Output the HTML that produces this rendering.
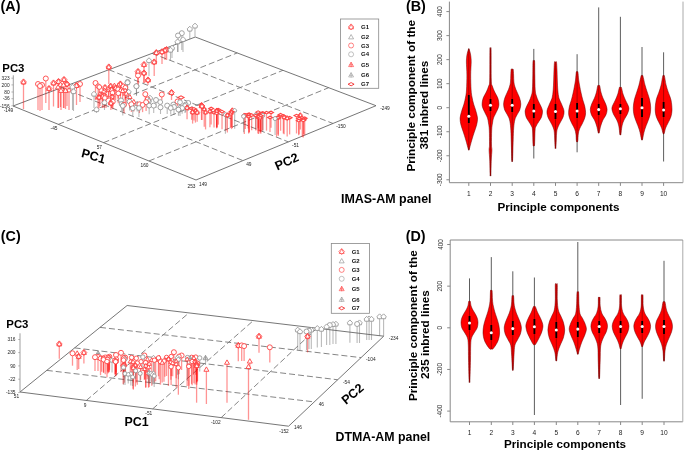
<!DOCTYPE html>
<html><head><meta charset="utf-8"><style>html,body{margin:0;padding:0;background:#fff;}svg{display:block;will-change:transform;}</style></head>
<body><svg width="685" height="451" viewBox="0 0 685 451" font-family="Liberation Sans, sans-serif">
<rect width="685" height="451" fill="#fff"/>
<line x1="58.38" y1="124.35" x2="237.22" y2="52.94" stroke="#777" stroke-width="0.9" stroke-dasharray="6 3" />
<line x1="103.58" y1="142.63" x2="282.94" y2="70.32" stroke="#777" stroke-width="0.9" stroke-dasharray="6 3" />
<line x1="148.97" y1="160.98" x2="328.66" y2="87.70" stroke="#777" stroke-width="0.9" stroke-dasharray="6 3" />
<line x1="61.49" y1="87.65" x2="242.98" y2="160.61" stroke="#777" stroke-width="0.9" stroke-dasharray="6 3" />
<line x1="108.89" y1="69.71" x2="288.34" y2="141.88" stroke="#777" stroke-width="0.9" stroke-dasharray="6 3" />
<line x1="152.09" y1="53.35" x2="332.98" y2="123.46" stroke="#777" stroke-width="0.9" stroke-dasharray="6 3" />
<line x1="13.00" y1="106.00" x2="195.30" y2="37.00" stroke="#666" stroke-width="0.9" />
<line x1="195.30" y1="37.00" x2="376.00" y2="105.70" stroke="#666" stroke-width="0.9" />
<line x1="13.00" y1="106.00" x2="196.00" y2="180.00" stroke="#666" stroke-width="0.9" />
<line x1="196.00" y1="180.00" x2="376.00" y2="105.70" stroke="#666" stroke-width="0.9" />
<line x1="86.34" y1="400.45" x2="188.94" y2="312.90" stroke="#777" stroke-width="0.9" stroke-dasharray="6 3" />
<line x1="152.69" y1="408.89" x2="253.35" y2="320.60" stroke="#777" stroke-width="0.9" stroke-dasharray="6 3" />
<line x1="221.18" y1="417.62" x2="316.98" y2="328.22" stroke="#777" stroke-width="0.9" stroke-dasharray="6 3" />
<line x1="46.77" y1="370.38" x2="314.28" y2="401.90" stroke="#777" stroke-width="0.9" stroke-dasharray="6 3" />
<line x1="74.62" y1="347.88" x2="337.67" y2="379.76" stroke="#777" stroke-width="0.9" stroke-dasharray="6 3" />
<line x1="100.00" y1="327.38" x2="361.07" y2="357.62" stroke="#777" stroke-width="0.9" stroke-dasharray="6 3" />
<line x1="20.00" y1="392.00" x2="127.10" y2="305.50" stroke="#666" stroke-width="0.9" />
<line x1="127.10" y1="305.50" x2="383.70" y2="336.20" stroke="#666" stroke-width="0.9" />
<line x1="20.00" y1="392.00" x2="288.60" y2="426.20" stroke="#666" stroke-width="0.9" />
<line x1="288.60" y1="426.20" x2="383.70" y2="336.20" stroke="#666" stroke-width="0.9" />
<line x1="23.50" y1="83.50" x2="23.50" y2="109.00" stroke="#f00" stroke-width="1.3" stroke-opacity="0.42"/>
<line x1="38.00" y1="85.50" x2="38.00" y2="110.00" stroke="#f00" stroke-width="1.3" stroke-opacity="0.42"/>
<line x1="40.00" y1="87.50" x2="40.00" y2="111.00" stroke="#f00" stroke-width="1.3" stroke-opacity="0.42"/>
<line x1="42.00" y1="86.50" x2="42.00" y2="110.00" stroke="#f00" stroke-width="1.3" stroke-opacity="0.42"/>
<line x1="45.80" y1="80.00" x2="45.80" y2="103.00" stroke="#f00" stroke-width="1.3" stroke-opacity="0.42"/>
<line x1="49.00" y1="90.00" x2="49.00" y2="110.00" stroke="#f00" stroke-width="1.3" stroke-opacity="0.42"/>
<line x1="53.50" y1="84.50" x2="53.50" y2="106.50" stroke="#f00" stroke-width="1.3" stroke-opacity="0.42"/>
<line x1="58.50" y1="83.00" x2="58.50" y2="108.00" stroke="#f00" stroke-width="1.3" stroke-opacity="0.42"/>
<line x1="64.00" y1="81.00" x2="64.00" y2="108.00" stroke="#f00" stroke-width="1.3" stroke-opacity="0.42"/>
<line x1="60.50" y1="86.00" x2="60.50" y2="107.00" stroke="#f00" stroke-width="1.3" stroke-opacity="0.42"/>
<line x1="63.50" y1="86.50" x2="63.50" y2="108.00" stroke="#f00" stroke-width="1.3" stroke-opacity="0.42"/>
<line x1="67.00" y1="85.50" x2="67.00" y2="106.00" stroke="#f00" stroke-width="1.3" stroke-opacity="0.42"/>
<line x1="58.00" y1="88.50" x2="58.00" y2="108.00" stroke="#f00" stroke-width="1.3" stroke-opacity="0.42"/>
<line x1="61.00" y1="92.00" x2="61.00" y2="110.00" stroke="#f00" stroke-width="1.3" stroke-opacity="0.42"/>
<line x1="65.50" y1="92.00" x2="65.50" y2="109.00" stroke="#f00" stroke-width="1.3" stroke-opacity="0.42"/>
<line x1="69.00" y1="91.50" x2="69.00" y2="110.00" stroke="#f00" stroke-width="1.3" stroke-opacity="0.42"/>
<line x1="72.50" y1="88.50" x2="72.50" y2="110.00" stroke="#666" stroke-width="1.1" stroke-opacity="0.45"/>
<line x1="73.50" y1="93.00" x2="73.50" y2="111.00" stroke="#666" stroke-width="1.1" stroke-opacity="0.45"/>
<line x1="76.50" y1="87.00" x2="76.50" y2="105.00" stroke="#f00" stroke-width="1.3" stroke-opacity="0.42"/>
<line x1="80.00" y1="85.50" x2="80.00" y2="102.00" stroke="#f00" stroke-width="1.3" stroke-opacity="0.42"/>
<line x1="95.50" y1="84.50" x2="95.50" y2="100.00" stroke="#f00" stroke-width="1.3" stroke-opacity="0.42"/>
<line x1="94.00" y1="95.50" x2="94.00" y2="108.00" stroke="#666" stroke-width="1.1" stroke-opacity="0.45"/>
<line x1="96.50" y1="111.00" x2="96.50" y2="113.00" stroke="#666" stroke-width="1.1" stroke-opacity="0.45"/>
<line x1="100.00" y1="95.50" x2="100.00" y2="106.00" stroke="#f00" stroke-width="1.3" stroke-opacity="0.42"/>
<line x1="102.50" y1="98.00" x2="102.50" y2="108.00" stroke="#f00" stroke-width="1.3" stroke-opacity="0.42"/>
<line x1="105.00" y1="89.00" x2="105.00" y2="98.00" stroke="#f00" stroke-width="1.3" stroke-opacity="0.42"/>
<line x1="106.00" y1="98.00" x2="106.00" y2="108.00" stroke="#f00" stroke-width="1.3" stroke-opacity="0.42"/>
<line x1="104.50" y1="104.00" x2="104.50" y2="110.00" stroke="#666" stroke-width="1.1" stroke-opacity="0.45"/>
<line x1="108.80" y1="68.50" x2="108.80" y2="84.00" stroke="#f00" stroke-width="1.3" stroke-opacity="0.42"/>
<line x1="120.50" y1="85.50" x2="120.50" y2="95.00" stroke="#f00" stroke-width="1.3" stroke-opacity="0.42"/>
<line x1="127.50" y1="84.00" x2="127.50" y2="92.00" stroke="#666" stroke-width="1.1" stroke-opacity="0.45"/>
<line x1="138.00" y1="73.00" x2="138.00" y2="85.00" stroke="#f00" stroke-width="1.3" stroke-opacity="0.42"/>
<line x1="138.00" y1="77.00" x2="138.00" y2="85.00" stroke="#f00" stroke-width="1.3" stroke-opacity="0.42"/>
<line x1="136.50" y1="87.50" x2="136.50" y2="96.00" stroke="#666" stroke-width="1.1" stroke-opacity="0.45"/>
<line x1="144.00" y1="66.00" x2="144.00" y2="83.00" stroke="#f00" stroke-width="1.3" stroke-opacity="0.42"/>
<line x1="144.00" y1="74.50" x2="144.00" y2="83.00" stroke="#f00" stroke-width="1.3" stroke-opacity="0.42"/>
<line x1="148.00" y1="81.50" x2="148.00" y2="85.00" stroke="#f00" stroke-width="1.3" stroke-opacity="0.42"/>
<line x1="149.00" y1="62.00" x2="149.00" y2="76.00" stroke="#666" stroke-width="1.1" stroke-opacity="0.45"/>
<line x1="154.20" y1="63.50" x2="154.20" y2="76.00" stroke="#f00" stroke-width="1.3" stroke-opacity="0.42"/>
<line x1="156.30" y1="54.10" x2="156.30" y2="62.00" stroke="#f00" stroke-width="1.3" stroke-opacity="0.42"/>
<line x1="162.00" y1="53.30" x2="162.00" y2="64.00" stroke="#f00" stroke-width="1.3" stroke-opacity="0.42"/>
<line x1="165.00" y1="51.80" x2="165.00" y2="60.00" stroke="#f00" stroke-width="1.3" stroke-opacity="0.42"/>
<line x1="166.60" y1="51.00" x2="166.60" y2="60.00" stroke="#f00" stroke-width="1.3" stroke-opacity="0.42"/>
<line x1="172.00" y1="49.50" x2="172.00" y2="58.00" stroke="#666" stroke-width="1.1" stroke-opacity="0.45"/>
<line x1="170.50" y1="51.50" x2="170.50" y2="60.00" stroke="#666" stroke-width="1.1" stroke-opacity="0.45"/>
<line x1="177.60" y1="43.20" x2="177.60" y2="52.00" stroke="#666" stroke-width="1.1" stroke-opacity="0.45"/>
<line x1="178.00" y1="37.00" x2="178.00" y2="52.00" stroke="#666" stroke-width="1.1" stroke-opacity="0.45"/>
<line x1="181.80" y1="34.70" x2="181.80" y2="50.00" stroke="#666" stroke-width="1.1" stroke-opacity="0.45"/>
<line x1="183.00" y1="40.90" x2="183.00" y2="52.00" stroke="#666" stroke-width="1.1" stroke-opacity="0.45"/>
<line x1="189.80" y1="30.50" x2="189.80" y2="39.00" stroke="#666" stroke-width="1.1" stroke-opacity="0.45"/>
<line x1="195.00" y1="27.40" x2="195.00" y2="36.60" stroke="#666" stroke-width="1.1" stroke-opacity="0.45"/>
<line x1="161.80" y1="96.00" x2="161.80" y2="100.00" stroke="#f00" stroke-width="1.3" stroke-opacity="0.42"/>
<line x1="171.50" y1="94.00" x2="171.50" y2="100.00" stroke="#f00" stroke-width="1.3" stroke-opacity="0.42"/>
<line x1="177.50" y1="103.00" x2="177.50" y2="106.00" stroke="#f00" stroke-width="1.3" stroke-opacity="0.42"/>
<line x1="181.00" y1="99.00" x2="181.00" y2="104.00" stroke="#f00" stroke-width="1.3" stroke-opacity="0.42"/>
<line x1="202.00" y1="107.50" x2="202.00" y2="120.00" stroke="#f00" stroke-width="1.3" stroke-opacity="0.42"/>
<line x1="201.50" y1="107.00" x2="201.50" y2="120.00" stroke="#f00" stroke-width="1.3" stroke-opacity="0.42"/>
<line x1="131.40" y1="105.80" x2="131.40" y2="112.00" stroke="#f00" stroke-width="1.3" stroke-opacity="0.42"/>
<line x1="139.40" y1="105.80" x2="139.40" y2="113.00" stroke="#f00" stroke-width="1.3" stroke-opacity="0.42"/>
<line x1="146.10" y1="103.70" x2="146.10" y2="111.00" stroke="#f00" stroke-width="1.3" stroke-opacity="0.42"/>
<line x1="145.30" y1="95.70" x2="145.30" y2="100.00" stroke="#f00" stroke-width="1.3" stroke-opacity="0.42"/>
<line x1="136.40" y1="87.70" x2="136.40" y2="95.00" stroke="#666" stroke-width="1.1" stroke-opacity="0.45"/>
<line x1="153.70" y1="107.10" x2="153.70" y2="113.00" stroke="#666" stroke-width="1.1" stroke-opacity="0.45"/>
<line x1="160.50" y1="108.80" x2="160.50" y2="114.00" stroke="#666" stroke-width="1.1" stroke-opacity="0.45"/>
<line x1="167.20" y1="107.10" x2="167.20" y2="114.00" stroke="#666" stroke-width="1.1" stroke-opacity="0.45"/>
<line x1="121.70" y1="105.50" x2="121.70" y2="111.00" stroke="#666" stroke-width="1.1" stroke-opacity="0.45"/>
<line x1="174.00" y1="108.50" x2="174.00" y2="115.00" stroke="#666" stroke-width="1.1" stroke-opacity="0.45"/>
<line x1="180.00" y1="109.50" x2="180.00" y2="116.00" stroke="#666" stroke-width="1.1" stroke-opacity="0.45"/>
<line x1="185.00" y1="107.50" x2="185.00" y2="113.00" stroke="#666" stroke-width="1.1" stroke-opacity="0.45"/>
<line x1="156.00" y1="101.50" x2="156.00" y2="108.00" stroke="#666" stroke-width="1.1" stroke-opacity="0.45"/>
<line x1="150.00" y1="99.50" x2="150.00" y2="106.00" stroke="#666" stroke-width="1.1" stroke-opacity="0.45"/>
<line x1="111.60" y1="91.10" x2="111.60" y2="100.00" stroke="#f00" stroke-width="1.3" stroke-opacity="0.42"/>
<line x1="115.60" y1="89.50" x2="115.60" y2="100.00" stroke="#f00" stroke-width="1.3" stroke-opacity="0.42"/>
<line x1="120.40" y1="85.50" x2="120.40" y2="96.00" stroke="#f00" stroke-width="1.3" stroke-opacity="0.42"/>
<line x1="120.40" y1="91.90" x2="120.40" y2="100.00" stroke="#f00" stroke-width="1.3" stroke-opacity="0.42"/>
<line x1="111.60" y1="101.50" x2="111.60" y2="108.00" stroke="#f00" stroke-width="1.3" stroke-opacity="0.42"/>
<line x1="127.60" y1="83.50" x2="127.60" y2="92.00" stroke="#666" stroke-width="1.1" stroke-opacity="0.45"/>
<line x1="112.48" y1="94.34" x2="112.48" y2="105.46" stroke="#f00" stroke-width="1.3" stroke-opacity="0.42"/>
<line x1="125.36" y1="89.16" x2="125.36" y2="99.68" stroke="#f00" stroke-width="1.3" stroke-opacity="0.42"/>
<line x1="123.38" y1="87.82" x2="123.38" y2="95.83" stroke="#f00" stroke-width="1.3" stroke-opacity="0.42"/>
<line x1="118.30" y1="94.84" x2="118.30" y2="103.32" stroke="#f00" stroke-width="1.3" stroke-opacity="0.42"/>
<line x1="117.70" y1="88.70" x2="117.70" y2="95.28" stroke="#f00" stroke-width="1.3" stroke-opacity="0.42"/>
<line x1="99.14" y1="98.81" x2="99.14" y2="108.31" stroke="#f00" stroke-width="1.3" stroke-opacity="0.42"/>
<line x1="112.10" y1="98.29" x2="112.10" y2="107.39" stroke="#f00" stroke-width="1.3" stroke-opacity="0.42"/>
<line x1="98.15" y1="87.69" x2="98.15" y2="97.46" stroke="#f00" stroke-width="1.3" stroke-opacity="0.42"/>
<line x1="129.86" y1="98.26" x2="129.86" y2="108.30" stroke="#f00" stroke-width="1.3" stroke-opacity="0.42"/>
<line x1="114.41" y1="86.92" x2="114.41" y2="96.23" stroke="#f00" stroke-width="1.3" stroke-opacity="0.42"/>
<line x1="125.09" y1="91.91" x2="125.09" y2="103.20" stroke="#f00" stroke-width="1.3" stroke-opacity="0.42"/>
<line x1="104.83" y1="99.48" x2="104.83" y2="106.24" stroke="#f00" stroke-width="1.3" stroke-opacity="0.42"/>
<line x1="110.72" y1="87.52" x2="110.72" y2="97.17" stroke="#f00" stroke-width="1.3" stroke-opacity="0.42"/>
<line x1="108.78" y1="90.86" x2="108.78" y2="97.43" stroke="#f00" stroke-width="1.3" stroke-opacity="0.42"/>
<line x1="102.31" y1="96.40" x2="102.31" y2="102.95" stroke="#f00" stroke-width="1.3" stroke-opacity="0.42"/>
<line x1="103.69" y1="94.33" x2="103.69" y2="103.07" stroke="#f00" stroke-width="1.3" stroke-opacity="0.42"/>
<line x1="122.62" y1="92.37" x2="122.62" y2="100.79" stroke="#f00" stroke-width="1.3" stroke-opacity="0.42"/>
<line x1="98.02" y1="98.60" x2="98.02" y2="109.97" stroke="#f00" stroke-width="1.3" stroke-opacity="0.42"/>
<line x1="104.74" y1="92.02" x2="104.74" y2="102.79" stroke="#f00" stroke-width="1.3" stroke-opacity="0.42"/>
<line x1="99.35" y1="88.55" x2="99.35" y2="97.26" stroke="#f00" stroke-width="1.3" stroke-opacity="0.42"/>
<line x1="108.53" y1="90.65" x2="108.53" y2="97.52" stroke="#f00" stroke-width="1.3" stroke-opacity="0.42"/>
<line x1="118.37" y1="86.72" x2="118.37" y2="95.06" stroke="#f00" stroke-width="1.3" stroke-opacity="0.42"/>
<line x1="128.69" y1="93.27" x2="128.69" y2="102.64" stroke="#666" stroke-width="1.1" stroke-opacity="0.45"/>
<line x1="118.07" y1="90.85" x2="118.07" y2="98.49" stroke="#f00" stroke-width="1.3" stroke-opacity="0.42"/>
<line x1="104.07" y1="96.85" x2="104.07" y2="108.05" stroke="#f00" stroke-width="1.3" stroke-opacity="0.42"/>
<line x1="126.23" y1="94.95" x2="126.23" y2="103.56" stroke="#f00" stroke-width="1.3" stroke-opacity="0.42"/>
<line x1="129.52" y1="103.05" x2="129.52" y2="110.51" stroke="#666" stroke-width="1.1" stroke-opacity="0.45"/>
<line x1="142.60" y1="106.46" x2="142.60" y2="112.14" stroke="#f00" stroke-width="1.3" stroke-opacity="0.42"/>
<line x1="149.04" y1="101.76" x2="149.04" y2="108.18" stroke="#666" stroke-width="1.1" stroke-opacity="0.45"/>
<line x1="133.80" y1="103.30" x2="133.80" y2="111.47" stroke="#f00" stroke-width="1.3" stroke-opacity="0.42"/>
<line x1="110.90" y1="104.61" x2="110.90" y2="110.11" stroke="#f00" stroke-width="1.3" stroke-opacity="0.42"/>
<line x1="123.49" y1="106.22" x2="123.49" y2="111.25" stroke="#666" stroke-width="1.1" stroke-opacity="0.45"/>
<line x1="149.18" y1="107.07" x2="149.18" y2="114.33" stroke="#666" stroke-width="1.1" stroke-opacity="0.45"/>
<line x1="132.77" y1="109.74" x2="132.77" y2="116.14" stroke="#666" stroke-width="1.1" stroke-opacity="0.45"/>
<line x1="148.44" y1="100.71" x2="148.44" y2="107.76" stroke="#666" stroke-width="1.1" stroke-opacity="0.45"/>
<line x1="121.06" y1="101.87" x2="121.06" y2="106.66" stroke="#666" stroke-width="1.1" stroke-opacity="0.45"/>
<line x1="138.95" y1="109.50" x2="138.95" y2="116.95" stroke="#666" stroke-width="1.1" stroke-opacity="0.45"/>
<line x1="122.78" y1="107.35" x2="122.78" y2="115.45" stroke="#666" stroke-width="1.1" stroke-opacity="0.45"/>
<line x1="147.66" y1="100.80" x2="147.66" y2="107.30" stroke="#f00" stroke-width="1.3" stroke-opacity="0.42"/>
<line x1="124.06" y1="106.33" x2="124.06" y2="113.26" stroke="#f00" stroke-width="1.3" stroke-opacity="0.42"/>
<line x1="112.85" y1="103.07" x2="112.85" y2="109.24" stroke="#f00" stroke-width="1.3" stroke-opacity="0.42"/>
<line x1="137.15" y1="105.08" x2="137.15" y2="111.43" stroke="#666" stroke-width="1.1" stroke-opacity="0.45"/>
<line x1="180.01" y1="103.74" x2="180.01" y2="109.64" stroke="#666" stroke-width="1.1" stroke-opacity="0.45"/>
<line x1="188.30" y1="104.40" x2="188.30" y2="111.02" stroke="#666" stroke-width="1.1" stroke-opacity="0.45"/>
<line x1="160.23" y1="103.59" x2="160.23" y2="108.29" stroke="#666" stroke-width="1.1" stroke-opacity="0.45"/>
<line x1="170.74" y1="109.53" x2="170.74" y2="114.40" stroke="#666" stroke-width="1.1" stroke-opacity="0.45"/>
<line x1="185.67" y1="106.12" x2="185.67" y2="112.28" stroke="#666" stroke-width="1.1" stroke-opacity="0.45"/>
<line x1="182.15" y1="109.54" x2="182.15" y2="113.84" stroke="#666" stroke-width="1.1" stroke-opacity="0.45"/>
<line x1="173.32" y1="106.03" x2="173.32" y2="110.08" stroke="#666" stroke-width="1.1" stroke-opacity="0.45"/>
<line x1="178.45" y1="111.10" x2="178.45" y2="115.71" stroke="#666" stroke-width="1.1" stroke-opacity="0.45"/>
<line x1="192.60" y1="113.63" x2="192.60" y2="123.62" stroke="#f00" stroke-width="1.3" stroke-opacity="0.42"/>
<line x1="195.41" y1="112.58" x2="195.41" y2="122.61" stroke="#f00" stroke-width="1.3" stroke-opacity="0.42"/>
<line x1="187.05" y1="109.16" x2="187.05" y2="119.28" stroke="#f00" stroke-width="1.3" stroke-opacity="0.42"/>
<line x1="193.99" y1="110.55" x2="193.99" y2="120.42" stroke="#f00" stroke-width="1.3" stroke-opacity="0.42"/>
<line x1="191.67" y1="109.95" x2="191.67" y2="119.76" stroke="#f00" stroke-width="1.3" stroke-opacity="0.42"/>
<line x1="197.16" y1="113.92" x2="197.16" y2="121.77" stroke="#f00" stroke-width="1.3" stroke-opacity="0.42"/>
<line x1="303.64" y1="120.73" x2="303.64" y2="134.23" stroke="#f00" stroke-width="1.3" stroke-opacity="0.42"/>
<line x1="277.99" y1="119.26" x2="277.99" y2="134.43" stroke="#f00" stroke-width="1.3" stroke-opacity="0.42"/>
<line x1="231.60" y1="113.16" x2="231.60" y2="129.14" stroke="#f00" stroke-width="1.3" stroke-opacity="0.42"/>
<line x1="244.32" y1="116.97" x2="244.32" y2="134.00" stroke="#f00" stroke-width="1.3" stroke-opacity="0.42"/>
<line x1="216.64" y1="112.73" x2="216.64" y2="128.35" stroke="#f00" stroke-width="1.3" stroke-opacity="0.42"/>
<line x1="260.75" y1="117.31" x2="260.75" y2="132.32" stroke="#f00" stroke-width="1.3" stroke-opacity="0.42"/>
<line x1="251.69" y1="116.62" x2="251.69" y2="130.14" stroke="#f00" stroke-width="1.3" stroke-opacity="0.42"/>
<line x1="225.40" y1="116.24" x2="225.40" y2="133.64" stroke="#666" stroke-width="1.1" stroke-opacity="0.45"/>
<line x1="230.50" y1="115.46" x2="230.50" y2="128.04" stroke="#f00" stroke-width="1.3" stroke-opacity="0.42"/>
<line x1="249.29" y1="115.79" x2="249.29" y2="132.14" stroke="#f00" stroke-width="1.3" stroke-opacity="0.42"/>
<line x1="225.92" y1="116.07" x2="225.92" y2="130.72" stroke="#f00" stroke-width="1.3" stroke-opacity="0.42"/>
<line x1="275.09" y1="120.07" x2="275.09" y2="134.92" stroke="#666" stroke-width="1.1" stroke-opacity="0.45"/>
<line x1="302.30" y1="119.40" x2="302.30" y2="136.65" stroke="#f00" stroke-width="1.3" stroke-opacity="0.42"/>
<line x1="249.14" y1="115.84" x2="249.14" y2="132.49" stroke="#f00" stroke-width="1.3" stroke-opacity="0.42"/>
<line x1="257.89" y1="118.32" x2="257.89" y2="133.62" stroke="#f00" stroke-width="1.3" stroke-opacity="0.42"/>
<line x1="303.25" y1="121.89" x2="303.25" y2="137.43" stroke="#f00" stroke-width="1.3" stroke-opacity="0.42"/>
<line x1="304.69" y1="119.78" x2="304.69" y2="135.15" stroke="#f00" stroke-width="1.3" stroke-opacity="0.42"/>
<line x1="255.83" y1="116.64" x2="255.83" y2="129.27" stroke="#666" stroke-width="1.1" stroke-opacity="0.45"/>
<line x1="260.12" y1="119.42" x2="260.12" y2="132.53" stroke="#f00" stroke-width="1.3" stroke-opacity="0.42"/>
<line x1="209.92" y1="112.77" x2="209.92" y2="127.34" stroke="#f00" stroke-width="1.3" stroke-opacity="0.42"/>
<line x1="231.27" y1="113.95" x2="231.27" y2="127.08" stroke="#f00" stroke-width="1.3" stroke-opacity="0.42"/>
<line x1="258.12" y1="113.63" x2="258.12" y2="128.23" stroke="#f00" stroke-width="1.3" stroke-opacity="0.42"/>
<line x1="216.59" y1="114.81" x2="216.59" y2="127.42" stroke="#f00" stroke-width="1.3" stroke-opacity="0.42"/>
<line x1="204.24" y1="110.71" x2="204.24" y2="126.83" stroke="#f00" stroke-width="1.3" stroke-opacity="0.42"/>
<line x1="214.01" y1="114.30" x2="214.01" y2="127.42" stroke="#f00" stroke-width="1.3" stroke-opacity="0.42"/>
<line x1="278.36" y1="118.94" x2="278.36" y2="135.83" stroke="#f00" stroke-width="1.3" stroke-opacity="0.42"/>
<line x1="289.64" y1="119.24" x2="289.64" y2="134.43" stroke="#f00" stroke-width="1.3" stroke-opacity="0.42"/>
<line x1="258.61" y1="118.42" x2="258.61" y2="133.98" stroke="#f00" stroke-width="1.3" stroke-opacity="0.42"/>
<line x1="299.06" y1="120.02" x2="299.06" y2="134.26" stroke="#f00" stroke-width="1.3" stroke-opacity="0.42"/>
<line x1="296.52" y1="117.06" x2="296.52" y2="133.45" stroke="#f00" stroke-width="1.3" stroke-opacity="0.42"/>
<line x1="217.06" y1="111.39" x2="217.06" y2="127.52" stroke="#f00" stroke-width="1.3" stroke-opacity="0.42"/>
<line x1="248.65" y1="118.25" x2="248.65" y2="133.46" stroke="#f00" stroke-width="1.3" stroke-opacity="0.42"/>
<line x1="245.29" y1="116.36" x2="245.29" y2="128.95" stroke="#f00" stroke-width="1.3" stroke-opacity="0.42"/>
<line x1="298.69" y1="122.17" x2="298.69" y2="135.25" stroke="#f00" stroke-width="1.3" stroke-opacity="0.42"/>
<line x1="255.79" y1="117.15" x2="255.79" y2="130.59" stroke="#f00" stroke-width="1.3" stroke-opacity="0.42"/>
<line x1="205.55" y1="113.87" x2="205.55" y2="129.43" stroke="#f00" stroke-width="1.3" stroke-opacity="0.42"/>
<line x1="218.39" y1="111.14" x2="218.39" y2="124.65" stroke="#f00" stroke-width="1.3" stroke-opacity="0.42"/>
<line x1="300.32" y1="116.71" x2="300.32" y2="129.52" stroke="#f00" stroke-width="1.3" stroke-opacity="0.42"/>
<line x1="211.15" y1="110.03" x2="211.15" y2="124.48" stroke="#f00" stroke-width="1.3" stroke-opacity="0.42"/>
<line x1="248.16" y1="116.03" x2="248.16" y2="128.60" stroke="#f00" stroke-width="1.3" stroke-opacity="0.42"/>
<line x1="222.03" y1="113.13" x2="222.03" y2="129.33" stroke="#f00" stroke-width="1.3" stroke-opacity="0.42"/>
<line x1="266.51" y1="114.17" x2="266.51" y2="130.63" stroke="#f00" stroke-width="1.3" stroke-opacity="0.42"/>
<line x1="287.18" y1="119.62" x2="287.18" y2="136.43" stroke="#f00" stroke-width="1.3" stroke-opacity="0.42"/>
<line x1="262.82" y1="114.51" x2="262.82" y2="129.93" stroke="#f00" stroke-width="1.3" stroke-opacity="0.42"/>
<line x1="232.35" y1="111.75" x2="232.35" y2="127.96" stroke="#f00" stroke-width="1.3" stroke-opacity="0.42"/>
<line x1="216.99" y1="111.96" x2="216.99" y2="127.15" stroke="#f00" stroke-width="1.3" stroke-opacity="0.42"/>
<line x1="283.35" y1="117.42" x2="283.35" y2="133.54" stroke="#f00" stroke-width="1.3" stroke-opacity="0.42"/>
<line x1="234.68" y1="111.82" x2="234.68" y2="128.76" stroke="#666" stroke-width="1.1" stroke-opacity="0.45"/>
<line x1="227.37" y1="116.67" x2="227.37" y2="132.50" stroke="#f00" stroke-width="1.3" stroke-opacity="0.42"/>
<line x1="262.81" y1="116.70" x2="262.81" y2="131.15" stroke="#666" stroke-width="1.1" stroke-opacity="0.45"/>
<line x1="276.63" y1="119.20" x2="276.63" y2="136.60" stroke="#f00" stroke-width="1.3" stroke-opacity="0.42"/>
<line x1="280.57" y1="116.26" x2="280.57" y2="130.77" stroke="#f00" stroke-width="1.3" stroke-opacity="0.42"/>
<line x1="271.04" y1="113.97" x2="271.04" y2="127.76" stroke="#f00" stroke-width="1.3" stroke-opacity="0.42"/>
<line x1="260.76" y1="116.38" x2="260.76" y2="133.72" stroke="#f00" stroke-width="1.3" stroke-opacity="0.42"/>
<line x1="269.99" y1="119.01" x2="269.99" y2="131.89" stroke="#f00" stroke-width="1.3" stroke-opacity="0.42"/>
<line x1="243.57" y1="117.85" x2="243.57" y2="132.28" stroke="#666" stroke-width="1.1" stroke-opacity="0.45"/>
<line x1="259.91" y1="116.89" x2="259.91" y2="131.53" stroke="#f00" stroke-width="1.3" stroke-opacity="0.42"/>
<line x1="258.31" y1="116.77" x2="258.31" y2="131.10" stroke="#f00" stroke-width="1.3" stroke-opacity="0.42"/>
<line x1="261.87" y1="115.03" x2="261.87" y2="131.11" stroke="#f00" stroke-width="1.3" stroke-opacity="0.42"/>
<line x1="284.11" y1="118.63" x2="284.11" y2="134.30" stroke="#f00" stroke-width="1.3" stroke-opacity="0.42"/>
<path d="M195.00,23.15 L197.50,25.65 L196.88,28.02 L193.12,28.02 L192.50,25.65Z" fill="#fff" stroke="#999" stroke-width="0.9"/>
<path d="M189.80,26.25 L192.30,28.75 L191.68,31.12 L187.93,31.12 L187.30,28.75Z" fill="#fff" stroke="#999" stroke-width="0.9"/>
<circle cx="181.80" cy="33.20" r="2.50" fill="#fff" stroke="#999" stroke-width="0.9"/>
<circle cx="178.00" cy="35.50" r="2.50" fill="#fff" stroke="#999" stroke-width="0.9"/>
<path d="M183.00,36.65 L185.50,39.15 L184.88,41.52 L181.12,41.52 L180.50,39.15Z" fill="#fff" stroke="#999" stroke-width="0.9"/>
<path d="M177.60,38.95 L180.10,41.45 L179.47,43.83 L175.72,43.83 L175.10,41.45Z" fill="#fff" stroke="#999" stroke-width="0.9"/>
<path d="M172.00,45.25 L174.50,47.75 L173.88,50.12 L170.12,50.12 L169.50,47.75Z" fill="#fff" stroke="#999" stroke-width="0.9"/>
<path d="M166.60,47.00 L169.10,51.38 L164.10,51.38Z" fill="#fff" stroke="#f44" stroke-width="0.9"/>
<path d="M166.60,46.38 L169.47,49.50 L166.60,52.50 L163.72,49.50Z" fill="none" stroke="#f44" stroke-width="0.9"/>
<path d="M170.50,47.25 L173.00,49.75 L172.38,52.12 L168.62,52.12 L168.00,49.75Z" fill="#fff" stroke="#999" stroke-width="0.9"/>
<path d="M165.00,47.80 L167.50,52.17 L162.50,52.17Z" fill="#fff" stroke="#f44" stroke-width="0.9"/>
<path d="M165.00,47.17 L167.88,50.30 L165.00,53.30 L162.12,50.30Z" fill="none" stroke="#f44" stroke-width="0.9"/>
<path d="M162.00,49.30 L164.50,53.67 L159.50,53.67Z" fill="#fff" stroke="#f44" stroke-width="0.9"/>
<path d="M162.00,48.67 L164.88,51.80 L162.00,54.80 L159.12,51.80Z" fill="none" stroke="#f44" stroke-width="0.9"/>
<path d="M156.30,50.10 L158.80,54.48 L153.80,54.48Z" fill="#fff" stroke="#f44" stroke-width="0.9"/>
<path d="M156.30,49.48 L159.18,52.60 L156.30,55.60 L153.43,52.60Z" fill="none" stroke="#f44" stroke-width="0.9"/>
<path d="M149.00,57.75 L151.50,60.25 L150.88,62.62 L147.12,62.62 L146.50,60.25Z" fill="#fff" stroke="#999" stroke-width="0.9"/>
<path d="M154.20,59.50 L156.70,63.88 L151.70,63.88Z" fill="#fff" stroke="#f44" stroke-width="0.9"/>
<path d="M154.20,58.88 L157.07,62.00 L154.20,65.00 L151.32,62.00Z" fill="none" stroke="#f44" stroke-width="0.9"/>
<path d="M144.00,62.00 L146.50,66.38 L141.50,66.38Z" fill="#fff" stroke="#f44" stroke-width="0.9"/>
<path d="M144.00,61.38 L146.88,64.50 L144.00,67.50 L141.12,64.50Z" fill="none" stroke="#f44" stroke-width="0.9"/>
<path d="M108.80,64.50 L111.30,68.88 L106.30,68.88Z" fill="#fff" stroke="#f44" stroke-width="0.9"/>
<path d="M108.80,63.88 L111.67,67.00 L108.80,70.00 L105.92,67.00Z" fill="none" stroke="#f44" stroke-width="0.9"/>
<path d="M138.00,69.00 L140.50,73.38 L135.50,73.38Z" fill="#fff" stroke="#f44" stroke-width="0.9"/>
<path d="M138.00,68.38 L140.88,71.50 L138.00,74.50 L135.12,71.50Z" fill="none" stroke="#f44" stroke-width="0.9"/>
<path d="M144.00,70.50 L146.50,74.88 L141.50,74.88Z" fill="#fff" stroke="#f44" stroke-width="0.9"/>
<path d="M144.00,69.88 L146.88,73.00 L144.00,76.00 L141.12,73.00Z" fill="none" stroke="#f44" stroke-width="0.9"/>
<circle cx="138.00" cy="75.50" r="2.50" fill="#fff" stroke="#f44" stroke-width="0.9"/>
<circle cx="45.80" cy="78.50" r="2.50" fill="#fff" stroke="#f44" stroke-width="0.9"/>
<path d="M64.00,77.00 L66.50,81.38 L61.50,81.38Z" fill="#fff" stroke="#f44" stroke-width="0.9"/>
<path d="M64.00,76.38 L66.88,79.50 L64.00,82.50 L61.12,79.50Z" fill="none" stroke="#f44" stroke-width="0.9"/>
<path d="M148.00,77.50 L150.50,81.88 L145.50,81.88Z" fill="#fff" stroke="#f44" stroke-width="0.9"/>
<path d="M148.00,76.88 L150.88,80.00 L148.00,83.00 L145.12,80.00Z" fill="none" stroke="#f44" stroke-width="0.9"/>
<path d="M58.50,79.00 L61.00,83.38 L56.00,83.38Z" fill="#fff" stroke="#f44" stroke-width="0.9"/>
<path d="M58.50,78.38 L61.38,81.50 L58.50,84.50 L55.62,81.50Z" fill="none" stroke="#f44" stroke-width="0.9"/>
<path d="M23.50,79.50 L26.00,83.88 L21.00,83.88Z" fill="#fff" stroke="#f44" stroke-width="0.9"/>
<path d="M23.50,78.88 L26.38,82.00 L23.50,85.00 L20.62,82.00Z" fill="none" stroke="#f44" stroke-width="0.9"/>
<circle cx="127.60" cy="82.00" r="2.50" fill="#fff" stroke="#999" stroke-width="0.9"/>
<path d="M127.50,79.75 L130.00,82.25 L129.38,84.62 L125.62,84.62 L125.00,82.25Z" fill="#fff" stroke="#999" stroke-width="0.9"/>
<path d="M53.50,80.50 L56.00,84.88 L51.00,84.88Z" fill="#fff" stroke="#f44" stroke-width="0.9"/>
<path d="M53.50,79.88 L56.38,83.00 L53.50,86.00 L50.62,83.00Z" fill="none" stroke="#f44" stroke-width="0.9"/>
<circle cx="95.50" cy="83.00" r="2.50" fill="#fff" stroke="#f44" stroke-width="0.9"/>
<circle cx="38.00" cy="84.00" r="2.50" fill="#fff" stroke="#f44" stroke-width="0.9"/>
<path d="M67.00,81.50 L69.50,85.88 L64.50,85.88Z" fill="#fff" stroke="#f44" stroke-width="0.9"/>
<path d="M67.00,80.88 L69.88,84.00 L67.00,87.00 L64.12,84.00Z" fill="none" stroke="#f44" stroke-width="0.9"/>
<circle cx="80.00" cy="84.00" r="2.50" fill="#fff" stroke="#f44" stroke-width="0.9"/>
<path d="M120.50,81.50 L123.00,85.88 L118.00,85.88Z" fill="#fff" stroke="#f44" stroke-width="0.9"/>
<path d="M120.50,81.50 L120.50,86.50 M118.75,84.20 L122.25,84.20" stroke="#f44" stroke-width="0.9"/>
<path d="M120.40,81.50 L122.90,85.88 L117.90,85.88Z" fill="#fff" stroke="#f44" stroke-width="0.9"/>
<path d="M120.40,80.88 L123.28,84.00 L120.40,87.00 L117.53,84.00Z" fill="none" stroke="#f44" stroke-width="0.9"/>
<path d="M60.50,82.00 L63.00,86.38 L58.00,86.38Z" fill="#fff" stroke="#f44" stroke-width="0.9"/>
<circle cx="42.00" cy="85.00" r="2.50" fill="#fff" stroke="#f44" stroke-width="0.9"/>
<path d="M63.50,82.50 L66.00,86.88 L61.00,86.88Z" fill="#fff" stroke="#f44" stroke-width="0.9"/>
<path d="M118.37,82.92 L120.67,86.94 L116.07,86.94Z" fill="#fff" stroke="#f44" stroke-width="0.9"/>
<path d="M114.41,83.12 L116.71,87.14 L112.11,87.14Z" fill="#fff" stroke="#f44" stroke-width="0.9"/>
<path d="M76.50,83.00 L79.00,87.38 L74.00,87.38Z" fill="#fff" stroke="#f44" stroke-width="0.9"/>
<path d="M76.50,82.38 L79.38,85.50 L76.50,88.50 L73.62,85.50Z" fill="none" stroke="#f44" stroke-width="0.9"/>
<circle cx="40.00" cy="86.00" r="2.50" fill="#fff" stroke="#f44" stroke-width="0.9"/>
<path d="M136.50,83.25 L139.00,85.75 L138.38,88.12 L134.62,88.12 L134.00,85.75Z" fill="#fff" stroke="#999" stroke-width="0.9"/>
<path d="M110.72,83.72 L113.02,87.75 L108.42,87.75Z" fill="#fff" stroke="#f44" stroke-width="0.9"/>
<path d="M110.72,83.15 L113.36,86.02 L110.72,88.78 L108.07,86.02Z" fill="none" stroke="#f44" stroke-width="0.9"/>
<circle cx="98.15" cy="86.19" r="2.30" fill="#fff" stroke="#f44" stroke-width="0.9"/>
<circle cx="136.40" cy="86.20" r="2.50" fill="#fff" stroke="#999" stroke-width="0.9"/>
<circle cx="123.38" cy="86.32" r="2.30" fill="#fff" stroke="#f44" stroke-width="0.9"/>
<path d="M58.00,84.50 L60.50,88.88 L55.50,88.88Z" fill="#fff" stroke="#f44" stroke-width="0.9"/>
<path d="M72.50,84.25 L75.00,86.75 L74.38,89.12 L70.62,89.12 L70.00,86.75Z" fill="#fff" stroke="#999" stroke-width="0.9"/>
<circle cx="99.35" cy="87.05" r="2.30" fill="#fff" stroke="#f44" stroke-width="0.9"/>
<path d="M117.70,84.90 L120.00,88.93 L115.40,88.93Z" fill="#fff" stroke="#f44" stroke-width="0.9"/>
<path d="M105.00,85.00 L107.50,89.38 L102.50,89.38Z" fill="#fff" stroke="#f44" stroke-width="0.9"/>
<path d="M105.00,84.38 L107.88,87.50 L105.00,90.50 L102.12,87.50Z" fill="none" stroke="#f44" stroke-width="0.9"/>
<circle cx="125.36" cy="87.66" r="2.30" fill="#fff" stroke="#f44" stroke-width="0.9"/>
<path d="M115.60,85.50 L118.10,89.88 L113.10,89.88Z" fill="#fff" stroke="#f44" stroke-width="0.9"/>
<path d="M115.60,84.88 L118.47,88.00 L115.60,91.00 L112.72,88.00Z" fill="none" stroke="#f44" stroke-width="0.9"/>
<path d="M49.00,86.00 L51.50,90.38 L46.50,90.38Z" fill="#fff" stroke="#f44" stroke-width="0.9"/>
<path d="M49.00,85.38 L51.88,88.50 L49.00,91.50 L46.12,88.50Z" fill="none" stroke="#f44" stroke-width="0.9"/>
<circle cx="108.53" cy="89.15" r="2.30" fill="#fff" stroke="#f44" stroke-width="0.9"/>
<circle cx="118.07" cy="89.35" r="2.30" fill="#fff" stroke="#f44" stroke-width="0.9"/>
<path d="M108.78,87.06 L111.08,91.08 L106.48,91.08Z" fill="#fff" stroke="#f44" stroke-width="0.9"/>
<path d="M111.60,87.10 L114.10,91.47 L109.10,91.47Z" fill="#fff" stroke="#f44" stroke-width="0.9"/>
<path d="M111.60,86.47 L114.47,89.60 L111.60,92.60 L108.72,89.60Z" fill="none" stroke="#f44" stroke-width="0.9"/>
<path d="M69.00,87.50 L71.50,91.88 L66.50,91.88Z" fill="#fff" stroke="#f44" stroke-width="0.9"/>
<path d="M120.40,87.90 L122.90,92.28 L117.90,92.28Z" fill="#fff" stroke="#f44" stroke-width="0.9"/>
<path d="M125.09,88.11 L127.39,92.14 L122.79,92.14Z" fill="#fff" stroke="#f44" stroke-width="0.9"/>
<path d="M61.00,88.00 L63.50,92.38 L58.50,92.38Z" fill="#fff" stroke="#f44" stroke-width="0.9"/>
<path d="M65.50,88.00 L68.00,92.38 L63.00,92.38Z" fill="#fff" stroke="#f44" stroke-width="0.9"/>
<path d="M104.74,88.22 L107.04,92.24 L102.44,92.24Z" fill="#fff" stroke="#f44" stroke-width="0.9"/>
<path d="M122.62,88.57 L124.92,92.59 L120.32,92.59Z" fill="#fff" stroke="#f44" stroke-width="0.9"/>
<path d="M73.50,88.75 L76.00,91.25 L75.38,93.62 L71.62,93.62 L71.00,91.25Z" fill="#fff" stroke="#999" stroke-width="0.9"/>
<path d="M128.69,89.24 L130.99,91.54 L130.42,93.73 L126.97,93.73 L126.39,91.54Z" fill="#fff" stroke="#999" stroke-width="0.9"/>
<path d="M171.50,90.00 L174.00,94.38 L169.00,94.38Z" fill="#fff" stroke="#f44" stroke-width="0.9"/>
<path d="M171.50,89.38 L174.38,92.50 L171.50,95.50 L168.62,92.50Z" fill="none" stroke="#f44" stroke-width="0.9"/>
<circle cx="103.69" cy="92.83" r="2.30" fill="#fff" stroke="#f44" stroke-width="0.9"/>
<circle cx="112.48" cy="92.84" r="2.30" fill="#fff" stroke="#f44" stroke-width="0.9"/>
<circle cx="118.30" cy="93.34" r="2.30" fill="#fff" stroke="#f44" stroke-width="0.9"/>
<path d="M126.23,91.15 L128.53,95.17 L123.93,95.17Z" fill="#fff" stroke="#f44" stroke-width="0.9"/>
<path d="M94.00,91.25 L96.50,93.75 L95.88,96.12 L92.12,96.12 L91.50,93.75Z" fill="#fff" stroke="#999" stroke-width="0.9"/>
<path d="M100.00,91.50 L102.50,95.88 L97.50,95.88Z" fill="#fff" stroke="#f44" stroke-width="0.9"/>
<circle cx="145.30" cy="94.20" r="2.50" fill="#fff" stroke="#f44" stroke-width="0.9"/>
<circle cx="161.80" cy="94.50" r="2.50" fill="#fff" stroke="#f44" stroke-width="0.9"/>
<path d="M102.31,92.60 L104.61,96.62 L100.01,96.62Z" fill="#fff" stroke="#f44" stroke-width="0.9"/>
<path d="M102.31,92.02 L104.95,94.90 L102.31,97.66 L99.66,94.90Z" fill="none" stroke="#f44" stroke-width="0.9"/>
<path d="M104.07,93.05 L106.37,97.08 L101.77,97.08Z" fill="#fff" stroke="#f44" stroke-width="0.9"/>
<path d="M104.07,92.48 L106.72,95.35 L104.07,98.11 L101.43,95.35Z" fill="none" stroke="#f44" stroke-width="0.9"/>
<path d="M102.50,94.00 L105.00,98.38 L100.00,98.38Z" fill="#fff" stroke="#f44" stroke-width="0.9"/>
<path d="M106.00,94.00 L108.50,98.38 L103.50,98.38Z" fill="#fff" stroke="#f44" stroke-width="0.9"/>
<path d="M129.86,94.46 L132.16,98.49 L127.56,98.49Z" fill="#fff" stroke="#f44" stroke-width="0.9"/>
<path d="M112.10,94.49 L114.40,98.52 L109.80,98.52Z" fill="#fff" stroke="#f44" stroke-width="0.9"/>
<path d="M112.10,93.92 L114.74,96.79 L112.10,99.55 L109.45,96.79Z" fill="none" stroke="#f44" stroke-width="0.9"/>
<path d="M98.02,94.80 L100.32,98.83 L95.72,98.83Z" fill="#fff" stroke="#f44" stroke-width="0.9"/>
<path d="M99.14,95.01 L101.44,99.04 L96.84,99.04Z" fill="#fff" stroke="#f44" stroke-width="0.9"/>
<path d="M99.14,94.44 L101.79,97.31 L99.14,100.07 L96.50,97.31Z" fill="none" stroke="#f44" stroke-width="0.9"/>
<path d="M178.00,97.50 L181.00,95.88 L184.00,97.50 L181.00,99.12Z" fill="#fff" stroke="#f44" stroke-width="1.08"/>
<circle cx="104.83" cy="97.98" r="2.30" fill="#fff" stroke="#f44" stroke-width="0.9"/>
<path d="M150.00,95.25 L152.50,97.75 L151.88,100.12 L148.12,100.12 L147.50,97.75Z" fill="#fff" stroke="#999" stroke-width="0.9"/>
<path d="M148.44,96.81 L150.84,101.01 L146.04,101.01Z" fill="#fff" stroke="#999" stroke-width="0.9"/>
<circle cx="147.66" cy="99.30" r="2.40" fill="#fff" stroke="#f44" stroke-width="0.9"/>
<circle cx="156.00" cy="100.00" r="2.50" fill="#fff" stroke="#999" stroke-width="0.9"/>
<path d="M111.60,97.50 L114.10,101.88 L109.10,101.88Z" fill="#fff" stroke="#f44" stroke-width="0.9"/>
<path d="M149.04,97.86 L151.44,102.06 L146.64,102.06Z" fill="#fff" stroke="#999" stroke-width="0.9"/>
<circle cx="121.06" cy="100.37" r="2.40" fill="#fff" stroke="#999" stroke-width="0.9"/>
<circle cx="177.50" cy="101.50" r="2.50" fill="#fff" stroke="#f44" stroke-width="0.9"/>
<circle cx="129.52" cy="101.55" r="2.40" fill="#fff" stroke="#999" stroke-width="0.9"/>
<circle cx="112.85" cy="101.57" r="2.40" fill="#fff" stroke="#f44" stroke-width="0.9"/>
<path d="M133.80,99.40 L136.20,103.60 L131.40,103.60Z" fill="#fff" stroke="#f44" stroke-width="0.9"/>
<circle cx="160.23" cy="102.09" r="2.40" fill="#fff" stroke="#999" stroke-width="0.9"/>
<circle cx="146.10" cy="102.20" r="2.50" fill="#fff" stroke="#f44" stroke-width="0.9"/>
<circle cx="180.01" cy="102.24" r="2.40" fill="#fff" stroke="#999" stroke-width="0.9"/>
<path d="M104.50,99.75 L107.00,102.25 L106.38,104.62 L102.62,104.62 L102.00,102.25Z" fill="#fff" stroke="#999" stroke-width="0.9"/>
<circle cx="188.30" cy="102.90" r="2.40" fill="#fff" stroke="#999" stroke-width="0.9"/>
<path d="M110.90,100.71 L113.30,104.91 L108.50,104.91Z" fill="#fff" stroke="#f44" stroke-width="0.9"/>
<path d="M110.90,100.11 L113.66,103.11 L110.90,105.99 L108.14,103.11Z" fill="none" stroke="#f44" stroke-width="0.9"/>
<path d="M137.15,101.18 L139.55,105.38 L134.75,105.38Z" fill="#fff" stroke="#999" stroke-width="0.9"/>
<circle cx="121.70" cy="104.00" r="2.50" fill="#fff" stroke="#999" stroke-width="0.9"/>
<circle cx="131.40" cy="104.30" r="2.50" fill="#fff" stroke="#f44" stroke-width="0.9"/>
<circle cx="139.40" cy="104.30" r="2.50" fill="#fff" stroke="#f44" stroke-width="0.9"/>
<circle cx="173.32" cy="104.53" r="2.40" fill="#fff" stroke="#999" stroke-width="0.9"/>
<circle cx="185.67" cy="104.62" r="2.40" fill="#fff" stroke="#999" stroke-width="0.9"/>
<circle cx="123.49" cy="104.72" r="2.40" fill="#fff" stroke="#999" stroke-width="0.9"/>
<circle cx="124.06" cy="104.83" r="2.40" fill="#fff" stroke="#f44" stroke-width="0.9"/>
<circle cx="142.60" cy="104.96" r="2.40" fill="#fff" stroke="#f44" stroke-width="0.9"/>
<path d="M201.50,103.00 L204.00,107.38 L199.00,107.38Z" fill="#fff" stroke="#f44" stroke-width="0.9"/>
<path d="M201.50,102.38 L204.38,105.50 L201.50,108.50 L198.62,105.50Z" fill="none" stroke="#f44" stroke-width="0.9"/>
<circle cx="149.18" cy="105.57" r="2.40" fill="#fff" stroke="#999" stroke-width="0.9"/>
<circle cx="153.70" cy="105.60" r="2.50" fill="#fff" stroke="#999" stroke-width="0.9"/>
<circle cx="167.20" cy="105.60" r="2.50" fill="#fff" stroke="#999" stroke-width="0.9"/>
<circle cx="122.78" cy="105.85" r="2.40" fill="#fff" stroke="#999" stroke-width="0.9"/>
<path d="M202.00,103.50 L204.50,107.88 L199.50,107.88Z" fill="#fff" stroke="#f44" stroke-width="0.9"/>
<path d="M202.00,102.88 L204.88,106.00 L202.00,109.00 L199.12,106.00Z" fill="none" stroke="#f44" stroke-width="0.9"/>
<circle cx="185.00" cy="106.00" r="2.50" fill="#fff" stroke="#999" stroke-width="0.9"/>
<circle cx="174.00" cy="107.00" r="2.50" fill="#fff" stroke="#999" stroke-width="0.9"/>
<circle cx="160.50" cy="107.30" r="2.50" fill="#fff" stroke="#999" stroke-width="0.9"/>
<path d="M187.05,105.46 L189.25,109.31 L184.85,109.31Z" fill="#fff" stroke="#f44" stroke-width="0.9"/>
<path d="M187.05,104.91 L189.58,107.66 L187.05,110.30 L184.52,107.66Z" fill="none" stroke="#f44" stroke-width="0.9"/>
<circle cx="180.00" cy="108.00" r="2.50" fill="#fff" stroke="#999" stroke-width="0.9"/>
<circle cx="138.95" cy="108.00" r="2.40" fill="#fff" stroke="#999" stroke-width="0.9"/>
<circle cx="170.74" cy="108.03" r="2.40" fill="#fff" stroke="#999" stroke-width="0.9"/>
<circle cx="182.15" cy="108.04" r="2.40" fill="#fff" stroke="#999" stroke-width="0.9"/>
<circle cx="132.77" cy="108.24" r="2.40" fill="#fff" stroke="#999" stroke-width="0.9"/>
<path d="M189.03,108.45 L191.67,107.02 L194.31,108.45 L191.67,109.88Z" fill="#fff" stroke="#f44" stroke-width="1.08"/>
<path d="M208.75,108.53 L211.15,107.23 L213.55,108.53 L211.15,109.83Z" fill="#fff" stroke="#f44" stroke-width="1.08"/>
<path d="M191.35,109.05 L193.99,107.62 L196.63,109.05 L193.99,110.48Z" fill="#fff" stroke="#f44" stroke-width="1.08"/>
<path d="M204.24,107.21 L206.24,110.71 L202.24,110.71Z" fill="#fff" stroke="#f44" stroke-width="0.9"/>
<path d="M204.24,106.71 L206.54,109.21 L204.24,111.61 L201.94,109.21Z" fill="none" stroke="#f44" stroke-width="0.9"/>
<path d="M96.50,106.75 L99.00,109.25 L98.38,111.62 L94.62,111.62 L94.00,109.25Z" fill="#fff" stroke="#999" stroke-width="0.9"/>
<circle cx="178.45" cy="109.60" r="2.40" fill="#fff" stroke="#999" stroke-width="0.9"/>
<path d="M215.99,109.64 L218.39,108.34 L220.79,109.64 L218.39,110.94Z" fill="#fff" stroke="#f44" stroke-width="1.08"/>
<path d="M214.66,109.89 L217.06,108.59 L219.46,109.89 L217.06,111.19Z" fill="#fff" stroke="#f44" stroke-width="1.08"/>
<path d="M232.35,108.25 L234.35,111.75 L230.35,111.75Z" fill="#fff" stroke="#f44" stroke-width="0.9"/>
<path d="M232.35,107.75 L234.65,110.25 L232.35,112.65 L230.05,110.25Z" fill="none" stroke="#f44" stroke-width="0.9"/>
<path d="M234.68,108.12 L236.68,110.12 L236.18,112.02 L233.18,112.02 L232.68,110.12Z" fill="#fff" stroke="#999" stroke-width="0.9"/>
<path d="M216.99,108.46 L218.99,111.96 L214.99,111.96Z" fill="#fff" stroke="#f44" stroke-width="0.9"/>
<path d="M216.99,107.96 L219.29,110.46 L216.99,112.86 L214.69,110.46Z" fill="none" stroke="#f44" stroke-width="0.9"/>
<path d="M195.41,108.88 L197.61,112.73 L193.21,112.73Z" fill="#fff" stroke="#f44" stroke-width="0.9"/>
<path d="M195.41,108.33 L197.94,111.08 L195.41,113.72 L192.88,111.08Z" fill="none" stroke="#f44" stroke-width="0.9"/>
<path d="M216.64,109.23 L218.64,112.73 L214.64,112.73Z" fill="#fff" stroke="#f44" stroke-width="0.9"/>
<path d="M216.64,108.73 L218.94,111.23 L216.64,113.63 L214.34,111.23Z" fill="none" stroke="#f44" stroke-width="0.9"/>
<path d="M209.92,109.27 L211.92,112.77 L207.92,112.77Z" fill="#fff" stroke="#f44" stroke-width="0.9"/>
<path d="M209.92,108.77 L212.22,111.27 L209.92,113.67 L207.62,111.27Z" fill="none" stroke="#f44" stroke-width="0.9"/>
<path d="M219.63,111.63 L222.03,110.33 L224.43,111.63 L222.03,112.93Z" fill="#fff" stroke="#f44" stroke-width="1.08"/>
<path d="M229.20,111.66 L231.60,110.36 L234.00,111.66 L231.60,112.96Z" fill="#fff" stroke="#f44" stroke-width="1.08"/>
<path d="M192.60,109.93 L194.80,113.78 L190.40,113.78Z" fill="#fff" stroke="#f44" stroke-width="0.9"/>
<path d="M192.60,109.38 L195.13,112.13 L192.60,114.77 L190.07,112.13Z" fill="none" stroke="#f44" stroke-width="0.9"/>
<path d="M255.72,112.13 L258.12,110.83 L260.52,112.13 L258.12,113.43Z" fill="#fff" stroke="#f44" stroke-width="1.08"/>
<path d="M205.55,110.37 L207.55,113.87 L203.55,113.87Z" fill="#fff" stroke="#f44" stroke-width="0.9"/>
<path d="M205.55,109.87 L207.85,112.37 L205.55,114.77 L203.25,112.37Z" fill="none" stroke="#f44" stroke-width="0.9"/>
<path d="M197.16,110.22 L199.36,114.07 L194.96,114.07Z" fill="#fff" stroke="#f44" stroke-width="0.9"/>
<path d="M197.16,109.67 L199.69,112.42 L197.16,115.06 L194.63,112.42Z" fill="none" stroke="#f44" stroke-width="0.9"/>
<path d="M231.27,110.45 L233.27,113.95 L229.27,113.95Z" fill="#fff" stroke="#f44" stroke-width="0.9"/>
<path d="M231.27,109.95 L233.57,112.45 L231.27,114.85 L228.97,112.45Z" fill="none" stroke="#f44" stroke-width="0.9"/>
<path d="M268.64,112.47 L271.04,111.17 L273.44,112.47 L271.04,113.77Z" fill="#fff" stroke="#f44" stroke-width="1.08"/>
<path d="M264.11,112.67 L266.51,111.37 L268.91,112.67 L266.51,113.97Z" fill="#fff" stroke="#f44" stroke-width="1.08"/>
<path d="M211.61,112.80 L214.01,111.50 L216.41,112.80 L214.01,114.10Z" fill="#fff" stroke="#f44" stroke-width="1.08"/>
<path d="M260.42,113.01 L262.82,111.71 L265.22,113.01 L262.82,114.31Z" fill="#fff" stroke="#f44" stroke-width="1.08"/>
<path d="M214.19,113.31 L216.59,112.01 L218.99,113.31 L216.59,114.61Z" fill="#fff" stroke="#f44" stroke-width="1.08"/>
<path d="M259.47,113.53 L261.87,112.23 L264.27,113.53 L261.87,114.83Z" fill="#fff" stroke="#f44" stroke-width="1.08"/>
<path d="M228.10,113.96 L230.50,112.66 L232.90,113.96 L230.50,115.26Z" fill="#fff" stroke="#f44" stroke-width="1.08"/>
<path d="M246.89,114.29 L249.29,112.99 L251.69,114.29 L249.29,115.59Z" fill="#fff" stroke="#f44" stroke-width="1.08"/>
<path d="M246.74,114.34 L249.14,113.04 L251.54,114.34 L249.14,115.64Z" fill="#fff" stroke="#f44" stroke-width="1.08"/>
<path d="M245.76,114.53 L248.16,113.23 L250.56,114.53 L248.16,115.83Z" fill="#fff" stroke="#f44" stroke-width="1.08"/>
<path d="M223.52,114.57 L225.92,113.27 L228.32,114.57 L225.92,115.87Z" fill="#fff" stroke="#f44" stroke-width="1.08"/>
<circle cx="225.40" cy="114.74" r="2.00" fill="#fff" stroke="#999" stroke-width="0.9"/>
<path d="M278.17,114.76 L280.57,113.46 L282.97,114.76 L280.57,116.06Z" fill="#fff" stroke="#f44" stroke-width="1.08"/>
<path d="M242.89,114.86 L245.29,113.56 L247.69,114.86 L245.29,116.16Z" fill="#fff" stroke="#f44" stroke-width="1.08"/>
<path d="M258.36,114.88 L260.76,113.58 L263.16,114.88 L260.76,116.18Z" fill="#fff" stroke="#f44" stroke-width="1.08"/>
<path d="M249.29,115.12 L251.69,113.82 L254.09,115.12 L251.69,116.42Z" fill="#fff" stroke="#f44" stroke-width="1.08"/>
<circle cx="255.83" cy="115.14" r="2.00" fill="#fff" stroke="#999" stroke-width="0.9"/>
<path d="M227.37,113.17 L229.37,116.67 L225.37,116.67Z" fill="#fff" stroke="#f44" stroke-width="0.9"/>
<path d="M227.37,112.67 L229.67,115.17 L227.37,117.57 L225.07,115.17Z" fill="none" stroke="#f44" stroke-width="0.9"/>
<path d="M262.81,113.00 L264.81,115.00 L264.31,116.90 L261.31,116.90 L260.81,115.00Z" fill="#fff" stroke="#999" stroke-width="0.9"/>
<path d="M300.32,113.21 L302.32,116.71 L298.32,116.71Z" fill="#fff" stroke="#f44" stroke-width="0.9"/>
<path d="M300.32,112.71 L302.62,115.21 L300.32,117.61 L298.02,115.21Z" fill="none" stroke="#f44" stroke-width="0.9"/>
<path d="M255.91,115.27 L258.31,113.97 L260.71,115.27 L258.31,116.57Z" fill="#fff" stroke="#f44" stroke-width="1.08"/>
<path d="M257.51,115.39 L259.91,114.09 L262.31,115.39 L259.91,116.69Z" fill="#fff" stroke="#f44" stroke-width="1.08"/>
<path d="M244.32,113.47 L246.32,116.97 L242.32,116.97Z" fill="#fff" stroke="#f44" stroke-width="0.9"/>
<path d="M244.32,112.97 L246.62,115.47 L244.32,117.87 L242.02,115.47Z" fill="none" stroke="#f44" stroke-width="0.9"/>
<path d="M294.12,115.56 L296.52,114.26 L298.92,115.56 L296.52,116.86Z" fill="#fff" stroke="#f44" stroke-width="1.08"/>
<path d="M253.39,115.65 L255.79,114.35 L258.19,115.65 L255.79,116.95Z" fill="#fff" stroke="#f44" stroke-width="1.08"/>
<path d="M258.35,115.81 L260.75,114.51 L263.15,115.81 L260.75,117.11Z" fill="#fff" stroke="#f44" stroke-width="1.08"/>
<path d="M280.95,115.92 L283.35,114.62 L285.75,115.92 L283.35,117.22Z" fill="#fff" stroke="#f44" stroke-width="1.08"/>
<circle cx="243.57" cy="116.35" r="2.00" fill="#fff" stroke="#999" stroke-width="0.9"/>
<path d="M246.25,116.75 L248.65,115.45 L251.05,116.75 L248.65,118.05Z" fill="#fff" stroke="#f44" stroke-width="1.08"/>
<path d="M257.89,114.82 L259.89,118.32 L255.89,118.32Z" fill="#fff" stroke="#f44" stroke-width="0.9"/>
<path d="M257.89,114.32 L260.19,116.82 L257.89,119.22 L255.59,116.82Z" fill="none" stroke="#f44" stroke-width="0.9"/>
<path d="M256.21,116.92 L258.61,115.62 L261.01,116.92 L258.61,118.22Z" fill="#fff" stroke="#f44" stroke-width="1.08"/>
<path d="M284.11,115.13 L286.11,118.63 L282.11,118.63Z" fill="#fff" stroke="#f44" stroke-width="0.9"/>
<path d="M284.11,114.63 L286.41,117.13 L284.11,119.53 L281.81,117.13Z" fill="none" stroke="#f44" stroke-width="0.9"/>
<path d="M278.36,115.44 L280.36,118.94 L276.36,118.94Z" fill="#fff" stroke="#f44" stroke-width="0.9"/>
<path d="M278.36,114.94 L280.66,117.44 L278.36,119.84 L276.06,117.44Z" fill="none" stroke="#f44" stroke-width="0.9"/>
<path d="M267.59,117.51 L269.99,116.21 L272.39,117.51 L269.99,118.81Z" fill="#fff" stroke="#f44" stroke-width="1.08"/>
<path d="M274.23,117.70 L276.63,116.40 L279.03,117.70 L276.63,119.00Z" fill="#fff" stroke="#f44" stroke-width="1.08"/>
<path d="M287.24,117.74 L289.64,116.44 L292.04,117.74 L289.64,119.04Z" fill="#fff" stroke="#f44" stroke-width="1.08"/>
<path d="M275.59,117.76 L277.99,116.46 L280.39,117.76 L277.99,119.06Z" fill="#fff" stroke="#f44" stroke-width="1.08"/>
<path d="M299.90,117.90 L302.30,116.60 L304.70,117.90 L302.30,119.20Z" fill="#fff" stroke="#f44" stroke-width="1.08"/>
<path d="M257.72,117.92 L260.12,116.62 L262.52,117.92 L260.12,119.22Z" fill="#fff" stroke="#f44" stroke-width="1.08"/>
<path d="M287.18,116.12 L289.18,119.62 L285.18,119.62Z" fill="#fff" stroke="#f44" stroke-width="0.9"/>
<path d="M287.18,115.62 L289.48,118.12 L287.18,120.52 L284.88,118.12Z" fill="none" stroke="#f44" stroke-width="0.9"/>
<path d="M302.29,118.28 L304.69,116.98 L307.09,118.28 L304.69,119.58Z" fill="#fff" stroke="#f44" stroke-width="1.08"/>
<path d="M296.66,118.52 L299.06,117.22 L301.46,118.52 L299.06,119.82Z" fill="#fff" stroke="#f44" stroke-width="1.08"/>
<circle cx="275.09" cy="118.57" r="2.00" fill="#fff" stroke="#999" stroke-width="0.9"/>
<path d="M301.24,119.23 L303.64,117.93 L306.04,119.23 L303.64,120.53Z" fill="#fff" stroke="#f44" stroke-width="1.08"/>
<path d="M300.85,120.39 L303.25,119.09 L305.65,120.39 L303.25,121.69Z" fill="#fff" stroke="#f44" stroke-width="1.08"/>
<path d="M296.29,120.67 L298.69,119.37 L301.09,120.67 L298.69,121.97Z" fill="#fff" stroke="#f44" stroke-width="1.08"/>
<line x1="59.30" y1="345.50" x2="59.30" y2="358.70" stroke="#f00" stroke-width="1.3" stroke-opacity="0.42"/>
<line x1="72.50" y1="354.80" x2="72.50" y2="365.70" stroke="#f00" stroke-width="1.3" stroke-opacity="0.42"/>
<line x1="77.20" y1="354.80" x2="77.20" y2="370.00" stroke="#f00" stroke-width="1.3" stroke-opacity="0.42"/>
<line x1="78.70" y1="357.90" x2="78.70" y2="369.00" stroke="#f00" stroke-width="1.3" stroke-opacity="0.42"/>
<line x1="83.90" y1="354.00" x2="83.90" y2="363.40" stroke="#f00" stroke-width="1.3" stroke-opacity="0.42"/>
<line x1="95.00" y1="358.70" x2="95.00" y2="371.00" stroke="#f00" stroke-width="1.3" stroke-opacity="0.42"/>
<line x1="98.10" y1="354.80" x2="98.10" y2="360.00" stroke="#666" stroke-width="1.1" stroke-opacity="0.45"/>
<line x1="98.00" y1="358.50" x2="98.00" y2="371.00" stroke="#f00" stroke-width="1.3" stroke-opacity="0.42"/>
<line x1="103.60" y1="360.20" x2="103.60" y2="373.00" stroke="#f00" stroke-width="1.3" stroke-opacity="0.42"/>
<line x1="109.00" y1="359.50" x2="109.00" y2="372.00" stroke="#f00" stroke-width="1.3" stroke-opacity="0.42"/>
<line x1="116.00" y1="356.50" x2="116.00" y2="372.00" stroke="#f00" stroke-width="1.3" stroke-opacity="0.42"/>
<line x1="121.00" y1="354.30" x2="121.00" y2="372.00" stroke="#f00" stroke-width="1.3" stroke-opacity="0.42"/>
<line x1="144.40" y1="357.00" x2="144.40" y2="380.00" stroke="#f00" stroke-width="1.3" stroke-opacity="0.42"/>
<line x1="173.90" y1="353.70" x2="173.90" y2="366.00" stroke="#f00" stroke-width="1.3" stroke-opacity="0.42"/>
<line x1="181.60" y1="357.00" x2="181.60" y2="370.00" stroke="#f00" stroke-width="1.3" stroke-opacity="0.42"/>
<line x1="196.60" y1="367.00" x2="196.60" y2="402.70" stroke="#f00" stroke-width="1.3" stroke-opacity="0.42"/>
<line x1="190.00" y1="359.80" x2="190.00" y2="365.00" stroke="#666" stroke-width="1.1" stroke-opacity="0.45"/>
<line x1="205.50" y1="359.30" x2="205.50" y2="365.00" stroke="#666" stroke-width="1.1" stroke-opacity="0.45"/>
<line x1="206.40" y1="370.90" x2="206.40" y2="404.00" stroke="#f00" stroke-width="1.3" stroke-opacity="0.42"/>
<line x1="227.00" y1="363.90" x2="227.00" y2="402.70" stroke="#f00" stroke-width="1.3" stroke-opacity="0.42"/>
<line x1="238.30" y1="346.90" x2="238.30" y2="361.20" stroke="#f00" stroke-width="1.3" stroke-opacity="0.42"/>
<line x1="241.70" y1="346.90" x2="241.70" y2="361.00" stroke="#f00" stroke-width="1.3" stroke-opacity="0.42"/>
<line x1="244.10" y1="347.60" x2="244.10" y2="361.00" stroke="#f00" stroke-width="1.3" stroke-opacity="0.42"/>
<line x1="249.80" y1="362.70" x2="249.80" y2="368.00" stroke="#f00" stroke-width="1.3" stroke-opacity="0.42"/>
<line x1="248.50" y1="368.10" x2="248.50" y2="419.80" stroke="#f00" stroke-width="1.3" stroke-opacity="0.42"/>
<line x1="259.00" y1="337.80" x2="259.00" y2="352.70" stroke="#f00" stroke-width="1.3" stroke-opacity="0.42"/>
<line x1="269.80" y1="348.80" x2="269.80" y2="362.40" stroke="#f00" stroke-width="1.3" stroke-opacity="0.42"/>
<line x1="297.70" y1="331.40" x2="297.70" y2="350.00" stroke="#666" stroke-width="1.1" stroke-opacity="0.45"/>
<line x1="300.00" y1="333.00" x2="300.00" y2="350.00" stroke="#666" stroke-width="1.1" stroke-opacity="0.45"/>
<line x1="306.50" y1="333.00" x2="306.50" y2="350.00" stroke="#666" stroke-width="1.1" stroke-opacity="0.45"/>
<line x1="309.00" y1="332.20" x2="309.00" y2="349.00" stroke="#666" stroke-width="1.1" stroke-opacity="0.45"/>
<line x1="311.30" y1="331.40" x2="311.30" y2="349.00" stroke="#666" stroke-width="1.1" stroke-opacity="0.45"/>
<line x1="307.60" y1="337.80" x2="307.60" y2="352.40" stroke="#f00" stroke-width="1.3" stroke-opacity="0.42"/>
<line x1="317.30" y1="329.80" x2="317.30" y2="347.60" stroke="#666" stroke-width="1.1" stroke-opacity="0.45"/>
<line x1="321.40" y1="330.60" x2="321.40" y2="347.00" stroke="#666" stroke-width="1.1" stroke-opacity="0.45"/>
<line x1="326.60" y1="328.20" x2="326.60" y2="345.00" stroke="#666" stroke-width="1.1" stroke-opacity="0.45"/>
<line x1="329.80" y1="326.60" x2="329.80" y2="345.00" stroke="#666" stroke-width="1.1" stroke-opacity="0.45"/>
<line x1="333.00" y1="325.80" x2="333.00" y2="344.00" stroke="#666" stroke-width="1.1" stroke-opacity="0.45"/>
<line x1="335.90" y1="325.50" x2="335.90" y2="344.00" stroke="#666" stroke-width="1.1" stroke-opacity="0.45"/>
<line x1="349.90" y1="324.20" x2="349.90" y2="342.70" stroke="#666" stroke-width="1.1" stroke-opacity="0.45"/>
<line x1="357.10" y1="325.50" x2="357.10" y2="343.00" stroke="#666" stroke-width="1.1" stroke-opacity="0.45"/>
<line x1="359.50" y1="324.20" x2="359.50" y2="343.00" stroke="#666" stroke-width="1.1" stroke-opacity="0.45"/>
<line x1="366.70" y1="320.60" x2="366.70" y2="340.00" stroke="#666" stroke-width="1.1" stroke-opacity="0.45"/>
<line x1="369.10" y1="320.20" x2="369.10" y2="340.00" stroke="#666" stroke-width="1.1" stroke-opacity="0.45"/>
<line x1="371.50" y1="320.60" x2="371.50" y2="340.00" stroke="#666" stroke-width="1.1" stroke-opacity="0.45"/>
<line x1="379.60" y1="318.10" x2="379.60" y2="336.00" stroke="#666" stroke-width="1.1" stroke-opacity="0.45"/>
<line x1="383.60" y1="318.10" x2="383.60" y2="336.00" stroke="#666" stroke-width="1.1" stroke-opacity="0.45"/>
<line x1="115.57" y1="361.95" x2="115.57" y2="376.43" stroke="#f00" stroke-width="1.3" stroke-opacity="0.42"/>
<line x1="116.30" y1="360.68" x2="116.30" y2="375.38" stroke="#f00" stroke-width="1.3" stroke-opacity="0.42"/>
<line x1="116.22" y1="362.91" x2="116.22" y2="373.97" stroke="#f00" stroke-width="1.3" stroke-opacity="0.42"/>
<line x1="109.52" y1="358.11" x2="109.52" y2="369.86" stroke="#f00" stroke-width="1.3" stroke-opacity="0.42"/>
<line x1="106.99" y1="363.00" x2="106.99" y2="377.33" stroke="#f00" stroke-width="1.3" stroke-opacity="0.42"/>
<line x1="103.47" y1="361.20" x2="103.47" y2="372.34" stroke="#f00" stroke-width="1.3" stroke-opacity="0.42"/>
<line x1="105.24" y1="358.79" x2="105.24" y2="374.20" stroke="#f00" stroke-width="1.3" stroke-opacity="0.42"/>
<line x1="107.84" y1="358.69" x2="107.84" y2="373.57" stroke="#f00" stroke-width="1.3" stroke-opacity="0.42"/>
<line x1="123.52" y1="361.64" x2="123.52" y2="376.98" stroke="#f00" stroke-width="1.3" stroke-opacity="0.42"/>
<line x1="100.54" y1="359.99" x2="100.54" y2="375.17" stroke="#f00" stroke-width="1.3" stroke-opacity="0.42"/>
<line x1="107.53" y1="361.12" x2="107.53" y2="371.64" stroke="#f00" stroke-width="1.3" stroke-opacity="0.42"/>
<line x1="101.65" y1="359.63" x2="101.65" y2="371.66" stroke="#f00" stroke-width="1.3" stroke-opacity="0.42"/>
<line x1="112.03" y1="361.73" x2="112.03" y2="372.51" stroke="#666" stroke-width="1.1" stroke-opacity="0.45"/>
<line x1="123.73" y1="359.65" x2="123.73" y2="372.17" stroke="#f00" stroke-width="1.3" stroke-opacity="0.42"/>
<line x1="109.15" y1="360.97" x2="109.15" y2="371.52" stroke="#f00" stroke-width="1.3" stroke-opacity="0.42"/>
<line x1="115.59" y1="363.23" x2="115.59" y2="374.32" stroke="#f00" stroke-width="1.3" stroke-opacity="0.42"/>
<line x1="108.61" y1="359.63" x2="108.61" y2="372.75" stroke="#f00" stroke-width="1.3" stroke-opacity="0.42"/>
<line x1="114.74" y1="362.19" x2="114.74" y2="374.52" stroke="#f00" stroke-width="1.3" stroke-opacity="0.42"/>
<line x1="195.77" y1="358.59" x2="195.77" y2="374.86" stroke="#f00" stroke-width="1.3" stroke-opacity="0.42"/>
<line x1="148.52" y1="368.59" x2="148.52" y2="387.72" stroke="#f00" stroke-width="1.3" stroke-opacity="0.42"/>
<line x1="145.88" y1="367.09" x2="145.88" y2="387.36" stroke="#f00" stroke-width="1.3" stroke-opacity="0.42"/>
<line x1="199.74" y1="359.44" x2="199.74" y2="371.62" stroke="#666" stroke-width="1.1" stroke-opacity="0.45"/>
<line x1="124.48" y1="366.39" x2="124.48" y2="382.70" stroke="#f00" stroke-width="1.3" stroke-opacity="0.42"/>
<line x1="133.36" y1="369.25" x2="133.36" y2="389.69" stroke="#f00" stroke-width="1.3" stroke-opacity="0.42"/>
<line x1="187.40" y1="359.07" x2="187.40" y2="380.81" stroke="#666" stroke-width="1.1" stroke-opacity="0.45"/>
<line x1="130.32" y1="362.71" x2="130.32" y2="376.30" stroke="#f00" stroke-width="1.3" stroke-opacity="0.42"/>
<line x1="133.01" y1="368.56" x2="133.01" y2="388.75" stroke="#f00" stroke-width="1.3" stroke-opacity="0.42"/>
<line x1="196.89" y1="365.77" x2="196.89" y2="381.71" stroke="#f00" stroke-width="1.3" stroke-opacity="0.42"/>
<line x1="153.50" y1="359.26" x2="153.50" y2="376.04" stroke="#666" stroke-width="1.1" stroke-opacity="0.45"/>
<line x1="170.90" y1="363.49" x2="170.90" y2="379.73" stroke="#f00" stroke-width="1.3" stroke-opacity="0.42"/>
<line x1="162.18" y1="364.08" x2="162.18" y2="382.62" stroke="#f00" stroke-width="1.3" stroke-opacity="0.42"/>
<line x1="176.18" y1="365.47" x2="176.18" y2="387.60" stroke="#f00" stroke-width="1.3" stroke-opacity="0.42"/>
<line x1="187.15" y1="360.68" x2="187.15" y2="385.91" stroke="#f00" stroke-width="1.3" stroke-opacity="0.42"/>
<line x1="172.68" y1="364.47" x2="172.68" y2="376.13" stroke="#f00" stroke-width="1.3" stroke-opacity="0.42"/>
<line x1="147.42" y1="360.78" x2="147.42" y2="376.33" stroke="#f00" stroke-width="1.3" stroke-opacity="0.42"/>
<line x1="149.13" y1="365.23" x2="149.13" y2="387.06" stroke="#f00" stroke-width="1.3" stroke-opacity="0.42"/>
<line x1="193.94" y1="359.57" x2="193.94" y2="383.21" stroke="#f00" stroke-width="1.3" stroke-opacity="0.42"/>
<line x1="196.61" y1="363.72" x2="196.61" y2="382.63" stroke="#f00" stroke-width="1.3" stroke-opacity="0.42"/>
<line x1="195.12" y1="363.23" x2="195.12" y2="384.41" stroke="#f00" stroke-width="1.3" stroke-opacity="0.42"/>
<line x1="135.40" y1="366.86" x2="135.40" y2="386.50" stroke="#f00" stroke-width="1.3" stroke-opacity="0.42"/>
<line x1="145.61" y1="364.14" x2="145.61" y2="387.78" stroke="#f00" stroke-width="1.3" stroke-opacity="0.42"/>
<line x1="137.26" y1="364.54" x2="137.26" y2="384.77" stroke="#f00" stroke-width="1.3" stroke-opacity="0.42"/>
<line x1="171.21" y1="358.00" x2="171.21" y2="376.10" stroke="#f00" stroke-width="1.3" stroke-opacity="0.42"/>
<line x1="191.56" y1="358.83" x2="191.56" y2="383.88" stroke="#f00" stroke-width="1.3" stroke-opacity="0.42"/>
<line x1="154.41" y1="361.71" x2="154.41" y2="382.49" stroke="#f00" stroke-width="1.3" stroke-opacity="0.42"/>
<line x1="140.55" y1="368.34" x2="140.55" y2="379.85" stroke="#f00" stroke-width="1.3" stroke-opacity="0.42"/>
<line x1="188.76" y1="367.90" x2="188.76" y2="389.04" stroke="#f00" stroke-width="1.3" stroke-opacity="0.42"/>
<line x1="164.89" y1="361.12" x2="164.89" y2="376.75" stroke="#f00" stroke-width="1.3" stroke-opacity="0.42"/>
<line x1="196.75" y1="367.32" x2="196.75" y2="384.69" stroke="#f00" stroke-width="1.3" stroke-opacity="0.42"/>
<line x1="158.46" y1="359.38" x2="158.46" y2="376.24" stroke="#f00" stroke-width="1.3" stroke-opacity="0.42"/>
<line x1="197.50" y1="364.80" x2="197.50" y2="381.22" stroke="#f00" stroke-width="1.3" stroke-opacity="0.42"/>
<line x1="151.78" y1="361.41" x2="151.78" y2="385.74" stroke="#f00" stroke-width="1.3" stroke-opacity="0.42"/>
<line x1="171.10" y1="368.20" x2="171.10" y2="384.96" stroke="#f00" stroke-width="1.3" stroke-opacity="0.42"/>
<line x1="160.49" y1="363.25" x2="160.49" y2="384.67" stroke="#f00" stroke-width="1.3" stroke-opacity="0.42"/>
<line x1="168.47" y1="360.62" x2="168.47" y2="385.85" stroke="#f00" stroke-width="1.3" stroke-opacity="0.42"/>
<line x1="123.53" y1="368.84" x2="123.53" y2="384.65" stroke="#666" stroke-width="1.1" stroke-opacity="0.45"/>
<line x1="159.20" y1="358.96" x2="159.20" y2="379.17" stroke="#f00" stroke-width="1.3" stroke-opacity="0.42"/>
<line x1="125.12" y1="359.14" x2="125.12" y2="376.13" stroke="#f00" stroke-width="1.3" stroke-opacity="0.42"/>
<line x1="140.99" y1="363.19" x2="140.99" y2="375.21" stroke="#f00" stroke-width="1.3" stroke-opacity="0.42"/>
<line x1="178.27" y1="360.93" x2="178.27" y2="379.32" stroke="#666" stroke-width="1.1" stroke-opacity="0.45"/>
<line x1="123.26" y1="359.01" x2="123.26" y2="374.47" stroke="#f00" stroke-width="1.3" stroke-opacity="0.42"/>
<line x1="179.04" y1="357.82" x2="179.04" y2="374.22" stroke="#f00" stroke-width="1.3" stroke-opacity="0.42"/>
<line x1="124.84" y1="360.53" x2="124.84" y2="378.41" stroke="#666" stroke-width="1.1" stroke-opacity="0.45"/>
<line x1="123.14" y1="366.84" x2="123.14" y2="384.33" stroke="#f00" stroke-width="1.3" stroke-opacity="0.42"/>
<line x1="188.98" y1="367.59" x2="188.98" y2="385.75" stroke="#f00" stroke-width="1.3" stroke-opacity="0.42"/>
<line x1="192.11" y1="363.08" x2="192.11" y2="385.20" stroke="#f00" stroke-width="1.3" stroke-opacity="0.42"/>
<line x1="176.18" y1="362.69" x2="176.18" y2="378.20" stroke="#f00" stroke-width="1.3" stroke-opacity="0.42"/>
<line x1="133.13" y1="363.24" x2="133.13" y2="382.43" stroke="#f00" stroke-width="1.3" stroke-opacity="0.42"/>
<line x1="163.96" y1="362.61" x2="163.96" y2="381.69" stroke="#f00" stroke-width="1.3" stroke-opacity="0.42"/>
<line x1="142.84" y1="358.52" x2="142.84" y2="370.90" stroke="#666" stroke-width="1.1" stroke-opacity="0.45"/>
<line x1="178.36" y1="369.24" x2="178.36" y2="394.72" stroke="#f00" stroke-width="1.3" stroke-opacity="0.42"/>
<line x1="131.62" y1="358.97" x2="131.62" y2="379.07" stroke="#f00" stroke-width="1.3" stroke-opacity="0.42"/>
<line x1="177.57" y1="359.12" x2="177.57" y2="374.71" stroke="#666" stroke-width="1.1" stroke-opacity="0.45"/>
<line x1="136.28" y1="359.72" x2="136.28" y2="382.45" stroke="#f00" stroke-width="1.3" stroke-opacity="0.42"/>
<line x1="125.40" y1="358.80" x2="125.40" y2="375.61" stroke="#f00" stroke-width="1.3" stroke-opacity="0.42"/>
<line x1="166.55" y1="358.92" x2="166.55" y2="376.00" stroke="#f00" stroke-width="1.3" stroke-opacity="0.42"/>
<line x1="155.67" y1="361.27" x2="155.67" y2="381.18" stroke="#f00" stroke-width="1.3" stroke-opacity="0.42"/>
<line x1="193.35" y1="359.16" x2="193.35" y2="374.78" stroke="#f00" stroke-width="1.3" stroke-opacity="0.42"/>
<line x1="152.31" y1="376.16" x2="152.31" y2="384.38" stroke="#666" stroke-width="1.1" stroke-opacity="0.45"/>
<line x1="132.63" y1="378.51" x2="132.63" y2="386.11" stroke="#666" stroke-width="1.1" stroke-opacity="0.45"/>
<line x1="150.91" y1="374.94" x2="150.91" y2="381.77" stroke="#666" stroke-width="1.1" stroke-opacity="0.45"/>
<line x1="144.65" y1="370.52" x2="144.65" y2="379.03" stroke="#f00" stroke-width="1.3" stroke-opacity="0.42"/>
<line x1="140.19" y1="374.94" x2="140.19" y2="381.78" stroke="#666" stroke-width="1.1" stroke-opacity="0.45"/>
<line x1="128.23" y1="375.87" x2="128.23" y2="383.62" stroke="#666" stroke-width="1.1" stroke-opacity="0.45"/>
<line x1="153.34" y1="374.65" x2="153.34" y2="383.92" stroke="#666" stroke-width="1.1" stroke-opacity="0.45"/>
<line x1="154.18" y1="377.48" x2="154.18" y2="386.90" stroke="#666" stroke-width="1.1" stroke-opacity="0.45"/>
<line x1="135.63" y1="372.32" x2="135.63" y2="378.82" stroke="#666" stroke-width="1.1" stroke-opacity="0.45"/>
<line x1="148.88" y1="374.04" x2="148.88" y2="382.87" stroke="#666" stroke-width="1.1" stroke-opacity="0.45"/>
<line x1="149.14" y1="374.70" x2="149.14" y2="384.31" stroke="#666" stroke-width="1.1" stroke-opacity="0.45"/>
<line x1="147.20" y1="374.25" x2="147.20" y2="379.33" stroke="#f00" stroke-width="1.3" stroke-opacity="0.42"/>
<line x1="130.87" y1="375.38" x2="130.87" y2="385.50" stroke="#666" stroke-width="1.1" stroke-opacity="0.45"/>
<line x1="125.01" y1="375.14" x2="125.01" y2="384.98" stroke="#666" stroke-width="1.1" stroke-opacity="0.45"/>
<path d="M379.60,313.85 L382.10,316.35 L381.48,318.73 L377.73,318.73 L377.10,316.35Z" fill="#fff" stroke="#999" stroke-width="0.9"/>
<path d="M383.60,313.85 L386.10,316.35 L385.48,318.73 L381.73,318.73 L381.10,316.35Z" fill="#fff" stroke="#999" stroke-width="0.9"/>
<path d="M369.10,315.95 L371.60,318.45 L370.98,320.82 L367.23,320.82 L366.60,318.45Z" fill="#fff" stroke="#999" stroke-width="0.9"/>
<path d="M366.70,316.35 L369.20,318.85 L368.57,321.23 L364.82,321.23 L364.20,318.85Z" fill="#fff" stroke="#999" stroke-width="0.9"/>
<path d="M371.50,316.35 L374.00,318.85 L373.38,321.23 L369.62,321.23 L369.00,318.85Z" fill="#fff" stroke="#999" stroke-width="0.9"/>
<path d="M349.90,319.95 L352.40,322.45 L351.77,324.82 L348.02,324.82 L347.40,322.45Z" fill="#fff" stroke="#999" stroke-width="0.9"/>
<path d="M359.50,319.95 L362.00,322.45 L361.38,324.82 L357.62,324.82 L357.00,322.45Z" fill="#fff" stroke="#999" stroke-width="0.9"/>
<path d="M335.90,321.25 L338.40,323.75 L337.77,326.12 L334.02,326.12 L333.40,323.75Z" fill="#fff" stroke="#999" stroke-width="0.9"/>
<circle cx="357.10" cy="324.00" r="2.50" fill="#fff" stroke="#999" stroke-width="0.9"/>
<path d="M333.00,321.55 L335.50,324.05 L334.88,326.43 L331.12,326.43 L330.50,324.05Z" fill="#fff" stroke="#999" stroke-width="0.9"/>
<circle cx="329.80" cy="325.10" r="2.50" fill="#fff" stroke="#999" stroke-width="0.9"/>
<path d="M326.60,323.95 L329.10,326.45 L328.48,328.82 L324.73,328.82 L324.10,326.45Z" fill="#fff" stroke="#999" stroke-width="0.9"/>
<path d="M317.30,325.55 L319.80,328.05 L319.18,330.43 L315.43,330.43 L314.80,328.05Z" fill="#fff" stroke="#999" stroke-width="0.9"/>
<path d="M321.40,326.35 L323.90,328.85 L323.27,331.23 L319.52,331.23 L318.90,328.85Z" fill="#fff" stroke="#999" stroke-width="0.9"/>
<path d="M297.70,327.15 L300.20,329.65 L299.57,332.02 L295.82,332.02 L295.20,329.65Z" fill="#fff" stroke="#999" stroke-width="0.9"/>
<path d="M311.30,327.15 L313.80,329.65 L313.18,332.02 L309.43,332.02 L308.80,329.65Z" fill="#fff" stroke="#999" stroke-width="0.9"/>
<circle cx="309.00" cy="330.70" r="2.50" fill="#fff" stroke="#999" stroke-width="0.9"/>
<path d="M300.00,328.75 L302.50,331.25 L301.88,333.62 L298.12,333.62 L297.50,331.25Z" fill="#fff" stroke="#999" stroke-width="0.9"/>
<circle cx="306.50" cy="331.50" r="2.50" fill="#fff" stroke="#999" stroke-width="0.9"/>
<path d="M259.00,333.80 L261.50,338.18 L256.50,338.18Z" fill="#fff" stroke="#f44" stroke-width="0.9"/>
<path d="M259.00,333.18 L261.88,336.30 L259.00,339.30 L256.12,336.30Z" fill="none" stroke="#f44" stroke-width="0.9"/>
<path d="M307.60,333.80 L310.10,338.18 L305.10,338.18Z" fill="#fff" stroke="#f44" stroke-width="0.9"/>
<path d="M307.60,333.18 L310.48,336.30 L307.60,339.30 L304.73,336.30Z" fill="none" stroke="#f44" stroke-width="0.9"/>
<path d="M59.30,341.50 L61.80,345.88 L56.80,345.88Z" fill="#fff" stroke="#f44" stroke-width="0.9"/>
<path d="M59.30,340.88 L62.17,344.00 L59.30,347.00 L56.42,344.00Z" fill="none" stroke="#f44" stroke-width="0.9"/>
<path d="M238.30,342.90 L240.80,347.27 L235.80,347.27Z" fill="#fff" stroke="#f44" stroke-width="0.9"/>
<path d="M238.30,342.27 L241.18,345.40 L238.30,348.40 L235.43,345.40Z" fill="none" stroke="#f44" stroke-width="0.9"/>
<circle cx="241.70" cy="345.40" r="2.50" fill="#fff" stroke="#f44" stroke-width="0.9"/>
<circle cx="244.10" cy="346.10" r="2.50" fill="#fff" stroke="#f44" stroke-width="0.9"/>
<circle cx="269.80" cy="347.30" r="2.50" fill="#fff" stroke="#f44" stroke-width="0.9"/>
<circle cx="173.90" cy="352.20" r="2.50" fill="#fff" stroke="#f44" stroke-width="0.9"/>
<path d="M83.90,350.00 L86.40,354.38 L81.40,354.38Z" fill="#fff" stroke="#f44" stroke-width="0.9"/>
<path d="M83.90,349.38 L86.78,352.50 L83.90,355.50 L81.03,352.50Z" fill="none" stroke="#f44" stroke-width="0.9"/>
<circle cx="121.00" cy="352.80" r="2.50" fill="#fff" stroke="#f44" stroke-width="0.9"/>
<circle cx="72.50" cy="353.30" r="2.50" fill="#fff" stroke="#f44" stroke-width="0.9"/>
<path d="M77.20,350.80 L79.70,355.18 L74.70,355.18Z" fill="#fff" stroke="#f44" stroke-width="0.9"/>
<path d="M98.10,350.80 L100.60,355.18 L95.60,355.18Z" fill="#fff" stroke="#999" stroke-width="0.9"/>
<path d="M98.10,350.80 L98.10,355.80 M96.35,353.50 L99.85,353.50" stroke="#999" stroke-width="0.9"/>
<circle cx="116.00" cy="355.00" r="2.50" fill="#fff" stroke="#f44" stroke-width="0.9"/>
<circle cx="144.40" cy="355.50" r="2.50" fill="#fff" stroke="#f44" stroke-width="0.9"/>
<circle cx="181.60" cy="355.50" r="2.50" fill="#fff" stroke="#f44" stroke-width="0.9"/>
<circle cx="179.04" cy="356.32" r="2.20" fill="#fff" stroke="#f44" stroke-width="0.9"/>
<path d="M78.70,353.90 L81.20,358.27 L76.20,358.27Z" fill="#fff" stroke="#f44" stroke-width="0.9"/>
<path d="M78.70,353.27 L81.58,356.40 L78.70,359.40 L75.83,356.40Z" fill="none" stroke="#f44" stroke-width="0.9"/>
<circle cx="171.21" cy="356.50" r="2.20" fill="#fff" stroke="#f44" stroke-width="0.9"/>
<circle cx="109.52" cy="356.61" r="2.30" fill="#fff" stroke="#f44" stroke-width="0.9"/>
<circle cx="98.00" cy="357.00" r="2.50" fill="#fff" stroke="#f44" stroke-width="0.9"/>
<circle cx="142.84" cy="357.02" r="2.20" fill="#fff" stroke="#999" stroke-width="0.9"/>
<circle cx="195.77" cy="357.09" r="2.20" fill="#fff" stroke="#f44" stroke-width="0.9"/>
<circle cx="107.84" cy="357.19" r="2.30" fill="#fff" stroke="#f44" stroke-width="0.9"/>
<circle cx="95.00" cy="357.20" r="2.50" fill="#fff" stroke="#f44" stroke-width="0.9"/>
<circle cx="105.24" cy="357.29" r="2.30" fill="#fff" stroke="#f44" stroke-width="0.9"/>
<circle cx="125.40" cy="357.30" r="2.20" fill="#fff" stroke="#f44" stroke-width="0.9"/>
<circle cx="191.56" cy="357.33" r="2.20" fill="#fff" stroke="#f44" stroke-width="0.9"/>
<circle cx="166.55" cy="357.42" r="2.20" fill="#fff" stroke="#f44" stroke-width="0.9"/>
<path d="M159.20,355.26 L161.40,359.11 L157.00,359.11Z" fill="#fff" stroke="#f44" stroke-width="0.9"/>
<circle cx="131.62" cy="357.47" r="2.20" fill="#fff" stroke="#f44" stroke-width="0.9"/>
<path d="M123.26,355.31 L125.46,359.16 L121.06,359.16Z" fill="#fff" stroke="#f44" stroke-width="0.9"/>
<circle cx="187.40" cy="357.57" r="2.20" fill="#fff" stroke="#999" stroke-width="0.9"/>
<path d="M177.57,355.20 L179.77,357.40 L179.22,359.49 L175.92,359.49 L175.37,357.40Z" fill="#fff" stroke="#999" stroke-width="0.9"/>
<path d="M125.12,355.44 L127.32,359.29 L122.92,359.29Z" fill="#fff" stroke="#f44" stroke-width="0.9"/>
<path d="M193.35,355.46 L195.55,359.31 L191.15,359.31Z" fill="#fff" stroke="#f44" stroke-width="0.9"/>
<path d="M153.50,355.34 L155.70,357.54 L155.15,359.63 L151.85,359.63 L151.30,357.54Z" fill="#fff" stroke="#999" stroke-width="0.9"/>
<path d="M205.50,355.30 L208.00,359.68 L203.00,359.68Z" fill="#fff" stroke="#999" stroke-width="0.9"/>
<path d="M205.50,355.30 L205.50,360.30 M203.75,358.00 L207.25,358.00" stroke="#999" stroke-width="0.9"/>
<circle cx="158.46" cy="357.88" r="2.20" fill="#fff" stroke="#f44" stroke-width="0.9"/>
<circle cx="199.74" cy="357.94" r="2.20" fill="#fff" stroke="#999" stroke-width="0.9"/>
<circle cx="109.00" cy="358.00" r="2.50" fill="#fff" stroke="#f44" stroke-width="0.9"/>
<path d="M193.94,355.87 L196.14,359.72 L191.74,359.72Z" fill="#fff" stroke="#f44" stroke-width="0.9"/>
<circle cx="108.61" cy="358.13" r="2.30" fill="#fff" stroke="#f44" stroke-width="0.9"/>
<circle cx="101.65" cy="358.13" r="2.30" fill="#fff" stroke="#f44" stroke-width="0.9"/>
<circle cx="123.73" cy="358.15" r="2.30" fill="#fff" stroke="#f44" stroke-width="0.9"/>
<circle cx="136.28" cy="358.22" r="2.20" fill="#fff" stroke="#f44" stroke-width="0.9"/>
<path d="M190.00,355.80 L192.50,360.18 L187.50,360.18Z" fill="#fff" stroke="#999" stroke-width="0.9"/>
<path d="M190.00,355.80 L190.00,360.80 M188.25,358.50 L191.75,358.50" stroke="#999" stroke-width="0.9"/>
<circle cx="100.54" cy="358.49" r="2.30" fill="#fff" stroke="#f44" stroke-width="0.9"/>
<circle cx="103.60" cy="358.70" r="2.50" fill="#fff" stroke="#f44" stroke-width="0.9"/>
<path d="M124.84,356.61 L127.04,358.81 L126.49,360.90 L123.19,360.90 L122.64,358.81Z" fill="#fff" stroke="#999" stroke-width="0.9"/>
<path d="M168.47,356.92 L170.67,360.77 L166.27,360.77Z" fill="#fff" stroke="#f44" stroke-width="0.9"/>
<path d="M168.47,356.37 L171.00,359.12 L168.47,361.76 L165.94,359.12Z" fill="none" stroke="#f44" stroke-width="0.9"/>
<path d="M187.15,356.98 L189.35,360.83 L184.95,360.83Z" fill="#fff" stroke="#f44" stroke-width="0.9"/>
<circle cx="116.30" cy="359.18" r="2.30" fill="#fff" stroke="#f44" stroke-width="0.9"/>
<path d="M147.42,357.08 L149.62,360.93 L145.22,360.93Z" fill="#fff" stroke="#f44" stroke-width="0.9"/>
<path d="M178.27,357.01 L180.47,359.21 L179.92,361.30 L176.62,361.30 L176.07,359.21Z" fill="#fff" stroke="#999" stroke-width="0.9"/>
<circle cx="109.15" cy="359.47" r="2.30" fill="#fff" stroke="#f44" stroke-width="0.9"/>
<path d="M164.89,357.42 L167.09,361.27 L162.69,361.27Z" fill="#fff" stroke="#f44" stroke-width="0.9"/>
<circle cx="107.53" cy="359.62" r="2.30" fill="#fff" stroke="#f44" stroke-width="0.9"/>
<circle cx="103.47" cy="359.70" r="2.30" fill="#fff" stroke="#f44" stroke-width="0.9"/>
<path d="M155.67,357.57 L157.87,361.42 L153.47,361.42Z" fill="#fff" stroke="#f44" stroke-width="0.9"/>
<path d="M151.78,357.71 L153.98,361.56 L149.58,361.56Z" fill="#fff" stroke="#f44" stroke-width="0.9"/>
<circle cx="123.52" cy="360.14" r="2.30" fill="#fff" stroke="#f44" stroke-width="0.9"/>
<circle cx="154.41" cy="360.21" r="2.20" fill="#fff" stroke="#f44" stroke-width="0.9"/>
<path d="M112.03,357.70 L114.33,360.00 L113.76,362.18 L110.31,362.18 L109.73,360.00Z" fill="#fff" stroke="#999" stroke-width="0.9"/>
<path d="M115.57,358.15 L117.87,362.18 L113.27,362.18Z" fill="#fff" stroke="#f44" stroke-width="0.9"/>
<circle cx="114.74" cy="360.69" r="2.30" fill="#fff" stroke="#f44" stroke-width="0.9"/>
<circle cx="163.96" cy="361.11" r="2.20" fill="#fff" stroke="#f44" stroke-width="0.9"/>
<path d="M176.18,358.99 L178.38,362.84 L173.98,362.84Z" fill="#fff" stroke="#f44" stroke-width="0.9"/>
<path d="M249.80,358.70 L252.30,363.07 L247.30,363.07Z" fill="#fff" stroke="#f44" stroke-width="0.9"/>
<path d="M130.32,359.01 L132.52,362.86 L128.12,362.86Z" fill="#fff" stroke="#f44" stroke-width="0.9"/>
<circle cx="116.22" cy="361.41" r="2.30" fill="#fff" stroke="#f44" stroke-width="0.9"/>
<circle cx="106.99" cy="361.50" r="2.30" fill="#fff" stroke="#f44" stroke-width="0.9"/>
<circle cx="192.11" cy="361.58" r="2.20" fill="#fff" stroke="#f44" stroke-width="0.9"/>
<circle cx="140.99" cy="361.69" r="2.20" fill="#fff" stroke="#f44" stroke-width="0.9"/>
<circle cx="115.59" cy="361.73" r="2.30" fill="#fff" stroke="#f44" stroke-width="0.9"/>
<path d="M195.12,359.53 L197.32,363.38 L192.92,363.38Z" fill="#fff" stroke="#f44" stroke-width="0.9"/>
<path d="M195.12,358.98 L197.65,361.73 L195.12,364.37 L192.59,361.73Z" fill="none" stroke="#f44" stroke-width="0.9"/>
<path d="M133.13,359.54 L135.33,363.39 L130.93,363.39Z" fill="#fff" stroke="#f44" stroke-width="0.9"/>
<circle cx="160.49" cy="361.75" r="2.20" fill="#fff" stroke="#f44" stroke-width="0.9"/>
<path d="M170.90,359.79 L173.10,363.64 L168.70,363.64Z" fill="#fff" stroke="#f44" stroke-width="0.9"/>
<path d="M196.61,360.02 L198.81,363.87 L194.41,363.87Z" fill="#fff" stroke="#f44" stroke-width="0.9"/>
<path d="M227.00,359.90 L229.50,364.27 L224.50,364.27Z" fill="#fff" stroke="#f44" stroke-width="0.9"/>
<path d="M162.18,360.38 L164.38,364.23 L159.98,364.23Z" fill="#fff" stroke="#f44" stroke-width="0.9"/>
<circle cx="145.61" cy="362.64" r="2.20" fill="#fff" stroke="#f44" stroke-width="0.9"/>
<path d="M172.68,360.77 L174.88,364.62 L170.48,364.62Z" fill="#fff" stroke="#f44" stroke-width="0.9"/>
<circle cx="137.26" cy="363.04" r="2.20" fill="#fff" stroke="#f44" stroke-width="0.9"/>
<circle cx="197.50" cy="363.30" r="2.20" fill="#fff" stroke="#f44" stroke-width="0.9"/>
<path d="M149.13,361.53 L151.33,365.38 L146.93,365.38Z" fill="#fff" stroke="#f44" stroke-width="0.9"/>
<path d="M176.18,361.77 L178.38,365.62 L173.98,365.62Z" fill="#fff" stroke="#f44" stroke-width="0.9"/>
<path d="M196.89,362.07 L199.09,365.92 L194.69,365.92Z" fill="#fff" stroke="#f44" stroke-width="0.9"/>
<path d="M196.89,361.52 L199.42,364.27 L196.89,366.91 L194.36,364.27Z" fill="none" stroke="#f44" stroke-width="0.9"/>
<path d="M124.48,362.69 L126.68,366.54 L122.28,366.54Z" fill="#fff" stroke="#f44" stroke-width="0.9"/>
<path d="M124.48,362.14 L127.01,364.89 L124.48,367.53 L121.95,364.89Z" fill="none" stroke="#f44" stroke-width="0.9"/>
<path d="M123.14,363.14 L125.34,366.99 L120.94,366.99Z" fill="#fff" stroke="#f44" stroke-width="0.9"/>
<path d="M123.14,362.59 L125.67,365.34 L123.14,367.98 L120.61,365.34Z" fill="none" stroke="#f44" stroke-width="0.9"/>
<path d="M135.40,363.16 L137.60,367.01 L133.20,367.01Z" fill="#fff" stroke="#f44" stroke-width="0.9"/>
<path d="M135.40,362.61 L137.93,365.36 L135.40,368.00 L132.87,365.36Z" fill="none" stroke="#f44" stroke-width="0.9"/>
<path d="M196.60,363.00 L199.10,367.38 L194.10,367.38Z" fill="#fff" stroke="#f44" stroke-width="0.9"/>
<path d="M196.60,362.38 L199.47,365.50 L196.60,368.50 L193.72,365.50Z" fill="none" stroke="#f44" stroke-width="0.9"/>
<path d="M145.88,363.39 L148.08,367.24 L143.68,367.24Z" fill="#fff" stroke="#f44" stroke-width="0.9"/>
<path d="M196.75,363.62 L198.95,367.47 L194.55,367.47Z" fill="#fff" stroke="#f44" stroke-width="0.9"/>
<circle cx="188.98" cy="366.09" r="2.20" fill="#fff" stroke="#f44" stroke-width="0.9"/>
<circle cx="188.76" cy="366.40" r="2.20" fill="#fff" stroke="#f44" stroke-width="0.9"/>
<path d="M248.50,364.10 L251.00,368.48 L246.00,368.48Z" fill="#fff" stroke="#f44" stroke-width="0.9"/>
<circle cx="171.10" cy="366.70" r="2.20" fill="#fff" stroke="#f44" stroke-width="0.9"/>
<path d="M140.55,364.64 L142.75,368.49 L138.35,368.49Z" fill="#fff" stroke="#f44" stroke-width="0.9"/>
<path d="M133.01,364.86 L135.21,368.71 L130.81,368.71Z" fill="#fff" stroke="#f44" stroke-width="0.9"/>
<path d="M133.01,364.31 L135.54,367.06 L133.01,369.70 L130.48,367.06Z" fill="none" stroke="#f44" stroke-width="0.9"/>
<path d="M148.52,364.89 L150.72,368.74 L146.32,368.74Z" fill="#fff" stroke="#f44" stroke-width="0.9"/>
<path d="M123.53,364.92 L125.73,367.12 L125.18,369.21 L121.88,369.21 L121.33,367.12Z" fill="#fff" stroke="#999" stroke-width="0.9"/>
<circle cx="178.36" cy="367.74" r="2.20" fill="#fff" stroke="#f44" stroke-width="0.9"/>
<path d="M133.36,365.55 L135.56,369.40 L131.16,369.40Z" fill="#fff" stroke="#f44" stroke-width="0.9"/>
<path d="M144.65,367.02 L146.65,370.52 L142.65,370.52Z" fill="#fff" stroke="#f44" stroke-width="0.9"/>
<path d="M206.40,366.90 L208.90,371.27 L203.90,371.27Z" fill="#fff" stroke="#f44" stroke-width="0.9"/>
<circle cx="135.63" cy="370.82" r="2.00" fill="#fff" stroke="#999" stroke-width="0.9"/>
<circle cx="148.88" cy="372.54" r="2.00" fill="#fff" stroke="#999" stroke-width="0.9"/>
<path d="M147.20,370.75 L149.20,374.25 L145.20,374.25Z" fill="#fff" stroke="#f44" stroke-width="0.9"/>
<path d="M153.34,370.95 L155.34,372.95 L154.84,374.85 L151.84,374.85 L151.34,372.95Z" fill="#fff" stroke="#999" stroke-width="0.9"/>
<path d="M149.14,371.00 L151.14,373.00 L150.64,374.90 L147.64,374.90 L147.14,373.00Z" fill="#fff" stroke="#999" stroke-width="0.9"/>
<path d="M150.91,371.24 L152.91,373.24 L152.41,375.14 L149.41,375.14 L148.91,373.24Z" fill="#fff" stroke="#999" stroke-width="0.9"/>
<circle cx="140.19" cy="373.44" r="2.00" fill="#fff" stroke="#999" stroke-width="0.9"/>
<circle cx="125.01" cy="373.64" r="2.00" fill="#fff" stroke="#999" stroke-width="0.9"/>
<circle cx="130.87" cy="373.88" r="2.00" fill="#fff" stroke="#999" stroke-width="0.9"/>
<path d="M128.23,372.17 L130.23,374.17 L129.73,376.07 L126.73,376.07 L126.23,374.17Z" fill="#fff" stroke="#999" stroke-width="0.9"/>
<path d="M152.31,372.46 L154.31,374.46 L153.81,376.36 L150.81,376.36 L150.31,374.46Z" fill="#fff" stroke="#999" stroke-width="0.9"/>
<circle cx="154.18" cy="375.98" r="2.00" fill="#fff" stroke="#999" stroke-width="0.9"/>
<path d="M132.63,374.81 L134.63,376.81 L134.13,378.71 L131.13,378.71 L130.63,376.81Z" fill="#fff" stroke="#999" stroke-width="0.9"/>
<line x1="449.40" y1="1.60" x2="449.40" y2="182.70" stroke="#888" stroke-width="1" />
<line x1="449.40" y1="182.70" x2="683.00" y2="182.70" stroke="#888" stroke-width="1" />
<line x1="683.00" y1="1.60" x2="683.00" y2="182.70" stroke="#aaa" stroke-width="1" />
<line x1="446.40" y1="11.58" x2="449.40" y2="11.58" stroke="#888" stroke-width="1" />
<text x="441.90" y="11.58" font-size="6.4" text-anchor="middle" fill="#333" transform="rotate(-90 441.9 11.579999999999998)" >400</text>
<line x1="446.40" y1="35.61" x2="449.40" y2="35.61" stroke="#888" stroke-width="1" />
<text x="441.90" y="35.61" font-size="6.4" text-anchor="middle" fill="#333" transform="rotate(-90 441.9 35.61)" >300</text>
<line x1="446.40" y1="59.64" x2="449.40" y2="59.64" stroke="#888" stroke-width="1" />
<text x="441.90" y="59.64" font-size="6.4" text-anchor="middle" fill="#333" transform="rotate(-90 441.9 59.64)" >200</text>
<line x1="446.40" y1="83.67" x2="449.40" y2="83.67" stroke="#888" stroke-width="1" />
<text x="441.90" y="83.67" font-size="6.4" text-anchor="middle" fill="#333" transform="rotate(-90 441.9 83.67)" >100</text>
<line x1="446.40" y1="107.70" x2="449.40" y2="107.70" stroke="#888" stroke-width="1" />
<text x="441.90" y="107.70" font-size="6.4" text-anchor="middle" fill="#333" transform="rotate(-90 441.9 107.7)" >0</text>
<line x1="446.40" y1="131.73" x2="449.40" y2="131.73" stroke="#888" stroke-width="1" />
<text x="441.90" y="131.73" font-size="6.4" text-anchor="middle" fill="#333" transform="rotate(-90 441.9 131.73000000000002)" >-100</text>
<line x1="446.40" y1="155.76" x2="449.40" y2="155.76" stroke="#888" stroke-width="1" />
<text x="441.90" y="155.76" font-size="6.4" text-anchor="middle" fill="#333" transform="rotate(-90 441.9 155.76)" >-200</text>
<line x1="446.40" y1="179.79" x2="449.40" y2="179.79" stroke="#888" stroke-width="1" />
<text x="441.90" y="179.79" font-size="6.4" text-anchor="middle" fill="#333" transform="rotate(-90 441.9 179.79000000000002)" >-300</text>
<line x1="468.80" y1="182.70" x2="468.80" y2="185.90" stroke="#888" stroke-width="1" />
<text x="468.80" y="196.20" font-size="6.6" text-anchor="middle" fill="#222" >1</text>
<line x1="490.50" y1="182.70" x2="490.50" y2="185.90" stroke="#888" stroke-width="1" />
<text x="490.50" y="196.20" font-size="6.6" text-anchor="middle" fill="#222" >2</text>
<line x1="512.20" y1="182.70" x2="512.20" y2="185.90" stroke="#888" stroke-width="1" />
<text x="512.20" y="196.20" font-size="6.6" text-anchor="middle" fill="#222" >3</text>
<line x1="533.80" y1="182.70" x2="533.80" y2="185.90" stroke="#888" stroke-width="1" />
<text x="533.80" y="196.20" font-size="6.6" text-anchor="middle" fill="#222" >4</text>
<line x1="555.50" y1="182.70" x2="555.50" y2="185.90" stroke="#888" stroke-width="1" />
<text x="555.50" y="196.20" font-size="6.6" text-anchor="middle" fill="#222" >5</text>
<line x1="577.10" y1="182.70" x2="577.10" y2="185.90" stroke="#888" stroke-width="1" />
<text x="577.10" y="196.20" font-size="6.6" text-anchor="middle" fill="#222" >6</text>
<line x1="598.70" y1="182.70" x2="598.70" y2="185.90" stroke="#888" stroke-width="1" />
<text x="598.70" y="196.20" font-size="6.6" text-anchor="middle" fill="#222" >7</text>
<line x1="620.40" y1="182.70" x2="620.40" y2="185.90" stroke="#888" stroke-width="1" />
<text x="620.40" y="196.20" font-size="6.6" text-anchor="middle" fill="#222" >8</text>
<line x1="642.00" y1="182.70" x2="642.00" y2="185.90" stroke="#888" stroke-width="1" />
<text x="642.00" y="196.20" font-size="6.6" text-anchor="middle" fill="#222" >9</text>
<line x1="663.60" y1="182.70" x2="663.60" y2="185.90" stroke="#888" stroke-width="1" />
<text x="663.60" y="196.20" font-size="6.6" text-anchor="middle" fill="#222" >10</text>
<line x1="468.80" y1="48.90" x2="468.80" y2="149.50" stroke="#333" stroke-width="0.8" />
<path d="M468.80,48.90 C468.83,48.90 468.80,48.38 469.00,48.90 C469.20,49.42 469.70,50.82 470.00,52.00 C470.30,53.18 470.60,54.33 470.80,56.00 C471.00,57.67 471.22,58.83 471.20,62.00 C471.18,65.17 470.72,70.33 470.70,75.00 C470.68,79.67 470.88,86.33 471.10,90.00 C471.32,93.67 471.58,94.67 472.00,97.00 C472.42,99.33 473.00,101.83 473.60,104.00 C474.20,106.17 474.95,107.67 475.60,110.00 C476.25,112.33 477.33,115.50 477.50,118.00 C477.67,120.50 477.13,122.67 476.60,125.00 C476.07,127.33 475.10,129.50 474.30,132.00 C473.50,134.50 472.65,137.08 471.80,140.00 C470.95,142.92 469.70,147.92 469.20,149.50 C468.70,151.08 468.93,149.50 468.80,149.50 C468.67,149.50 468.90,151.08 468.40,149.50 C467.90,147.92 466.65,142.92 465.80,140.00 C464.95,137.08 464.10,134.50 463.30,132.00 C462.50,129.50 461.53,127.33 461.00,125.00 C460.47,122.67 459.93,120.50 460.10,118.00 C460.27,115.50 461.35,112.33 462.00,110.00 C462.65,107.67 463.40,106.17 464.00,104.00 C464.60,101.83 465.18,99.33 465.60,97.00 C466.02,94.67 466.28,93.67 466.50,90.00 C466.72,86.33 466.92,79.67 466.90,75.00 C466.88,70.33 466.42,65.17 466.40,62.00 C466.38,58.83 466.60,57.67 466.80,56.00 C467.00,54.33 467.30,53.18 467.60,52.00 C467.90,50.82 468.40,49.42 468.60,48.90 C468.80,48.38 468.77,48.90 468.80,48.90Z" fill="#f00" stroke="#600" stroke-width="0.5"/>
<line x1="468.80" y1="48.90" x2="468.80" y2="149.50" stroke="#700" stroke-width="0.6" />
<rect x="467.90" y="95.00" width="1.8" height="28.00" fill="#000"/>
<circle cx="468.80" cy="116.20" r="1.55" fill="#fff"/>
<line x1="490.50" y1="49.80" x2="490.50" y2="175.40" stroke="#333" stroke-width="0.8" />
<path d="M490.50,49.80 C490.60,49.80 490.97,44.77 491.10,49.80 C491.23,54.83 491.10,73.97 491.30,80.00 C491.50,86.03 491.73,84.00 492.30,86.00 C492.87,88.00 493.78,90.00 494.70,92.00 C495.62,94.00 497.10,96.03 497.80,98.00 C498.50,99.97 498.83,102.13 498.90,103.80 C498.97,105.47 498.78,106.30 498.20,108.00 C497.62,109.70 496.18,112.33 495.40,114.00 C494.62,115.67 493.98,116.50 493.50,118.00 C493.02,119.50 492.80,121.00 492.50,123.00 C492.20,125.00 491.87,126.33 491.70,130.00 C491.53,133.67 491.47,141.67 491.50,145.00 C491.53,148.33 491.93,147.50 491.90,150.00 C491.87,152.50 491.47,155.83 491.30,160.00 C491.13,164.17 491.03,172.50 490.90,175.00 C490.77,177.50 490.63,175.00 490.50,175.00 C490.37,175.00 490.23,177.50 490.10,175.00 C489.97,172.50 489.87,164.17 489.70,160.00 C489.53,155.83 489.13,152.50 489.10,150.00 C489.07,147.50 489.47,148.33 489.50,145.00 C489.53,141.67 489.47,133.67 489.30,130.00 C489.13,126.33 488.80,125.00 488.50,123.00 C488.20,121.00 487.98,119.50 487.50,118.00 C487.02,116.50 486.38,115.67 485.60,114.00 C484.82,112.33 483.38,109.70 482.80,108.00 C482.22,106.30 482.03,105.47 482.10,103.80 C482.17,102.13 482.50,99.97 483.20,98.00 C483.90,96.03 485.38,94.00 486.30,92.00 C487.22,90.00 488.13,88.00 488.70,86.00 C489.27,84.00 489.50,86.03 489.70,80.00 C489.90,73.97 489.77,54.83 489.90,49.80 C490.03,44.77 490.40,49.80 490.50,49.80Z" fill="#f00" stroke="#600" stroke-width="0.5"/>
<line x1="490.50" y1="49.80" x2="490.50" y2="175.00" stroke="#700" stroke-width="0.6" />
<rect x="489.60" y="99.00" width="1.8" height="12.00" fill="#000"/>
<circle cx="490.50" cy="105.20" r="1.55" fill="#fff"/>
<line x1="512.20" y1="69.30" x2="512.20" y2="160.30" stroke="#333" stroke-width="0.8" />
<path d="M512.20,69.30 C512.37,69.30 512.97,68.35 513.20,69.30 C513.43,70.25 513.48,72.88 513.60,75.00 C513.72,77.12 513.67,80.00 513.90,82.00 C514.13,84.00 514.48,85.33 515.00,87.00 C515.52,88.67 516.23,90.17 517.00,92.00 C517.77,93.83 518.97,96.00 519.60,98.00 C520.23,100.00 520.78,102.00 520.80,104.00 C520.82,106.00 520.35,108.17 519.70,110.00 C519.05,111.83 517.72,113.33 516.90,115.00 C516.08,116.67 515.33,117.83 514.80,120.00 C514.27,122.17 513.97,124.67 513.70,128.00 C513.43,131.33 513.38,134.62 513.20,140.00 C513.02,145.38 512.77,156.92 512.60,160.30 C512.43,163.68 512.33,160.30 512.20,160.30 C512.07,160.30 511.97,163.68 511.80,160.30 C511.63,156.92 511.38,145.38 511.20,140.00 C511.02,134.62 510.97,131.33 510.70,128.00 C510.43,124.67 510.13,122.17 509.60,120.00 C509.07,117.83 508.32,116.67 507.50,115.00 C506.68,113.33 505.35,111.83 504.70,110.00 C504.05,108.17 503.58,106.00 503.60,104.00 C503.62,102.00 504.17,100.00 504.80,98.00 C505.43,96.00 506.63,93.83 507.40,92.00 C508.17,90.17 508.88,88.67 509.40,87.00 C509.92,85.33 510.27,84.00 510.50,82.00 C510.73,80.00 510.68,77.12 510.80,75.00 C510.92,72.88 510.97,70.25 511.20,69.30 C511.43,68.35 512.03,69.30 512.20,69.30Z" fill="#f00" stroke="#600" stroke-width="0.5"/>
<line x1="512.20" y1="69.30" x2="512.20" y2="160.30" stroke="#700" stroke-width="0.6" />
<rect x="511.30" y="99.00" width="1.8" height="13.00" fill="#000"/>
<circle cx="512.20" cy="105.20" r="1.55" fill="#fff"/>
<line x1="533.80" y1="48.90" x2="533.80" y2="158.50" stroke="#333" stroke-width="0.8" />
<path d="M533.80,61.30 C533.93,61.30 534.43,59.02 534.60,61.30 C534.77,63.58 534.70,70.22 534.80,75.00 C534.90,79.78 534.93,86.50 535.20,90.00 C535.47,93.50 535.88,94.17 536.40,96.00 C536.92,97.83 537.57,99.33 538.30,101.00 C539.03,102.67 540.10,104.33 540.80,106.00 C541.50,107.67 542.38,109.17 542.50,111.00 C542.62,112.83 542.08,115.28 541.50,117.00 C540.92,118.72 539.88,119.80 539.00,121.30 C538.12,122.80 536.85,124.55 536.20,126.00 C535.55,127.45 535.37,127.00 535.10,130.00 C534.83,133.00 534.77,141.33 534.60,144.00 C534.43,146.67 534.23,145.67 534.10,146.00 C533.97,146.33 533.90,146.00 533.80,146.00 C533.70,146.00 533.63,146.33 533.50,146.00 C533.37,145.67 533.17,146.67 533.00,144.00 C532.83,141.33 532.77,133.00 532.50,130.00 C532.23,127.00 532.05,127.45 531.40,126.00 C530.75,124.55 529.48,122.80 528.60,121.30 C527.72,119.80 526.68,118.72 526.10,117.00 C525.52,115.28 524.98,112.83 525.10,111.00 C525.22,109.17 526.10,107.67 526.80,106.00 C527.50,104.33 528.57,102.67 529.30,101.00 C530.03,99.33 530.68,97.83 531.20,96.00 C531.72,94.17 532.13,93.50 532.40,90.00 C532.67,86.50 532.70,79.78 532.80,75.00 C532.90,70.22 532.83,63.58 533.00,61.30 C533.17,59.02 533.67,61.30 533.80,61.30Z" fill="#f00" stroke="#600" stroke-width="0.5"/>
<line x1="533.80" y1="61.30" x2="533.80" y2="146.00" stroke="#700" stroke-width="0.6" />
<rect x="532.90" y="104.00" width="1.8" height="14.00" fill="#000"/>
<circle cx="533.80" cy="111.00" r="1.55" fill="#fff"/>
<line x1="555.50" y1="62.20" x2="555.50" y2="148.00" stroke="#333" stroke-width="0.8" />
<path d="M555.50,62.20 C555.67,62.20 556.25,60.90 556.50,62.20 C556.75,63.50 556.87,67.03 557.00,70.00 C557.13,72.97 557.17,76.67 557.30,80.00 C557.43,83.33 557.53,87.00 557.80,90.00 C558.07,93.00 558.28,95.67 558.90,98.00 C559.52,100.33 560.65,101.83 561.50,104.00 C562.35,106.17 563.73,108.83 564.00,111.00 C564.27,113.17 563.68,115.17 563.10,117.00 C562.52,118.83 561.35,120.33 560.50,122.00 C559.65,123.67 558.63,125.33 558.00,127.00 C557.37,128.67 556.98,129.83 556.70,132.00 C556.42,134.17 556.43,137.33 556.30,140.00 C556.17,142.67 556.03,146.67 555.90,148.00 C555.77,149.33 555.63,148.00 555.50,148.00 C555.37,148.00 555.23,149.33 555.10,148.00 C554.97,146.67 554.83,142.67 554.70,140.00 C554.57,137.33 554.58,134.17 554.30,132.00 C554.02,129.83 553.63,128.67 553.00,127.00 C552.37,125.33 551.35,123.67 550.50,122.00 C549.65,120.33 548.48,118.83 547.90,117.00 C547.32,115.17 546.73,113.17 547.00,111.00 C547.27,108.83 548.65,106.17 549.50,104.00 C550.35,101.83 551.48,100.33 552.10,98.00 C552.72,95.67 552.93,93.00 553.20,90.00 C553.47,87.00 553.57,83.33 553.70,80.00 C553.83,76.67 553.87,72.97 554.00,70.00 C554.13,67.03 554.25,63.50 554.50,62.20 C554.75,60.90 555.33,62.20 555.50,62.20Z" fill="#f00" stroke="#600" stroke-width="0.5"/>
<line x1="555.50" y1="62.20" x2="555.50" y2="148.00" stroke="#700" stroke-width="0.6" />
<rect x="554.60" y="104.00" width="1.8" height="15.00" fill="#000"/>
<circle cx="555.50" cy="111.50" r="1.55" fill="#fff"/>
<line x1="577.10" y1="54.20" x2="577.10" y2="152.30" stroke="#333" stroke-width="0.8" />
<path d="M577.10,72.00 C577.23,72.00 577.63,70.67 577.90,72.00 C578.17,73.33 578.40,77.67 578.70,80.00 C579.00,82.33 579.30,83.83 579.70,86.00 C580.10,88.17 580.58,90.67 581.10,93.00 C581.62,95.33 582.20,97.83 582.80,100.00 C583.40,102.17 584.23,103.88 584.70,106.00 C585.17,108.12 585.60,110.70 585.60,112.70 C585.60,114.70 585.28,116.12 584.70,118.00 C584.12,119.88 582.97,122.17 582.10,124.00 C581.23,125.83 580.13,127.33 579.50,129.00 C578.87,130.67 578.57,132.17 578.30,134.00 C578.03,135.83 578.05,138.67 577.90,140.00 C577.75,141.33 577.53,141.67 577.40,142.00 C577.27,142.33 577.20,142.00 577.10,142.00 C577.00,142.00 576.93,142.33 576.80,142.00 C576.67,141.67 576.45,141.33 576.30,140.00 C576.15,138.67 576.17,135.83 575.90,134.00 C575.63,132.17 575.33,130.67 574.70,129.00 C574.07,127.33 572.97,125.83 572.10,124.00 C571.23,122.17 570.08,119.88 569.50,118.00 C568.92,116.12 568.60,114.70 568.60,112.70 C568.60,110.70 569.03,108.12 569.50,106.00 C569.97,103.88 570.80,102.17 571.40,100.00 C572.00,97.83 572.58,95.33 573.10,93.00 C573.62,90.67 574.10,88.17 574.50,86.00 C574.90,83.83 575.20,82.33 575.50,80.00 C575.80,77.67 576.03,73.33 576.30,72.00 C576.57,70.67 576.97,72.00 577.10,72.00Z" fill="#f00" stroke="#600" stroke-width="0.5"/>
<line x1="577.10" y1="72.00" x2="577.10" y2="142.00" stroke="#700" stroke-width="0.6" />
<rect x="576.20" y="103.00" width="1.8" height="15.00" fill="#000"/>
<circle cx="577.10" cy="111.00" r="1.55" fill="#fff"/>
<line x1="598.70" y1="7.40" x2="598.70" y2="132.70" stroke="#333" stroke-width="0.8" />
<path d="M598.70,85.70 C598.87,85.70 599.33,84.65 599.70,85.70 C600.07,86.75 600.37,89.95 600.90,92.00 C601.43,94.05 602.10,96.00 602.90,98.00 C603.70,100.00 605.00,102.07 605.70,104.00 C606.40,105.93 607.07,107.77 607.10,109.60 C607.13,111.43 606.60,113.27 605.90,115.00 C605.20,116.73 603.77,118.17 602.90,120.00 C602.03,121.83 601.32,123.88 600.70,126.00 C600.08,128.12 599.53,131.58 599.20,132.70 C598.87,133.82 598.87,132.70 598.70,132.70 C598.53,132.70 598.53,133.82 598.20,132.70 C597.87,131.58 597.32,128.12 596.70,126.00 C596.08,123.88 595.37,121.83 594.50,120.00 C593.63,118.17 592.20,116.73 591.50,115.00 C590.80,113.27 590.27,111.43 590.30,109.60 C590.33,107.77 591.00,105.93 591.70,104.00 C592.40,102.07 593.70,100.00 594.50,98.00 C595.30,96.00 595.97,94.05 596.50,92.00 C597.03,89.95 597.33,86.75 597.70,85.70 C598.07,84.65 598.53,85.70 598.70,85.70Z" fill="#f00" stroke="#600" stroke-width="0.5"/>
<line x1="598.70" y1="85.70" x2="598.70" y2="132.70" stroke="#700" stroke-width="0.6" />
<rect x="597.80" y="104.00" width="1.8" height="11.00" fill="#000"/>
<circle cx="598.70" cy="109.60" r="1.55" fill="#fff"/>
<line x1="620.40" y1="16.80" x2="620.40" y2="134.50" stroke="#333" stroke-width="0.8" />
<path d="M620.40,87.50 C620.57,87.50 620.97,86.42 621.40,87.50 C621.83,88.58 622.33,91.92 623.00,94.00 C623.67,96.08 624.58,98.17 625.40,100.00 C626.22,101.83 627.32,103.53 627.90,105.00 C628.48,106.47 628.98,107.30 628.90,108.80 C628.82,110.30 628.22,112.13 627.40,114.00 C626.58,115.87 624.90,118.00 624.00,120.00 C623.10,122.00 622.52,123.58 622.00,126.00 C621.48,128.42 621.17,133.08 620.90,134.50 C620.63,135.92 620.57,134.50 620.40,134.50 C620.23,134.50 620.17,135.92 619.90,134.50 C619.63,133.08 619.32,128.42 618.80,126.00 C618.28,123.58 617.70,122.00 616.80,120.00 C615.90,118.00 614.22,115.87 613.40,114.00 C612.58,112.13 611.98,110.30 611.90,108.80 C611.82,107.30 612.32,106.47 612.90,105.00 C613.48,103.53 614.58,101.83 615.40,100.00 C616.22,98.17 617.13,96.08 617.80,94.00 C618.47,91.92 618.97,88.58 619.40,87.50 C619.83,86.42 620.23,87.50 620.40,87.50Z" fill="#f00" stroke="#600" stroke-width="0.5"/>
<line x1="620.40" y1="87.50" x2="620.40" y2="134.50" stroke="#700" stroke-width="0.6" />
<rect x="619.50" y="104.00" width="1.8" height="10.00" fill="#000"/>
<circle cx="620.40" cy="108.80" r="1.55" fill="#fff"/>
<line x1="642.00" y1="47.00" x2="642.00" y2="139.50" stroke="#333" stroke-width="0.8" />
<path d="M642.00,75.90 C642.15,75.90 642.40,74.38 642.90,75.90 C643.40,77.42 644.28,82.32 645.00,85.00 C645.72,87.68 646.42,89.50 647.20,92.00 C647.98,94.50 649.12,97.38 649.70,100.00 C650.28,102.62 650.65,105.20 650.70,107.70 C650.75,110.20 650.52,112.62 650.00,115.00 C649.48,117.38 648.50,119.50 647.60,122.00 C646.70,124.50 645.45,127.08 644.60,130.00 C643.75,132.92 642.93,137.92 642.50,139.50 C642.07,141.08 642.17,139.50 642.00,139.50 C641.83,139.50 641.93,141.08 641.50,139.50 C641.07,137.92 640.25,132.92 639.40,130.00 C638.55,127.08 637.30,124.50 636.40,122.00 C635.50,119.50 634.52,117.38 634.00,115.00 C633.48,112.62 633.25,110.20 633.30,107.70 C633.35,105.20 633.72,102.62 634.30,100.00 C634.88,97.38 636.02,94.50 636.80,92.00 C637.58,89.50 638.28,87.68 639.00,85.00 C639.72,82.32 640.60,77.42 641.10,75.90 C641.60,74.38 641.85,75.90 642.00,75.90Z" fill="#f00" stroke="#600" stroke-width="0.5"/>
<line x1="642.00" y1="75.90" x2="642.00" y2="139.50" stroke="#700" stroke-width="0.6" />
<rect x="641.10" y="98.00" width="1.8" height="19.00" fill="#000"/>
<circle cx="642.00" cy="107.70" r="1.55" fill="#fff"/>
<line x1="663.60" y1="52.30" x2="663.60" y2="161.50" stroke="#333" stroke-width="0.8" />
<path d="M663.60,75.90 C663.73,75.90 663.98,74.38 664.40,75.90 C664.82,77.42 665.47,82.32 666.10,85.00 C666.73,87.68 667.38,89.50 668.20,92.00 C669.02,94.50 670.37,97.00 671.00,100.00 C671.63,103.00 672.03,107.17 672.00,110.00 C671.97,112.83 671.47,114.83 670.80,117.00 C670.13,119.17 668.87,121.17 668.00,123.00 C667.13,124.83 666.17,126.50 665.60,128.00 C665.03,129.50 664.88,131.00 664.60,132.00 C664.32,133.00 664.07,133.67 663.90,134.00 C663.73,134.33 663.70,134.00 663.60,134.00 C663.50,134.00 663.47,134.33 663.30,134.00 C663.13,133.67 662.88,133.00 662.60,132.00 C662.32,131.00 662.17,129.50 661.60,128.00 C661.03,126.50 660.07,124.83 659.20,123.00 C658.33,121.17 657.07,119.17 656.40,117.00 C655.73,114.83 655.23,112.83 655.20,110.00 C655.17,107.17 655.57,103.00 656.20,100.00 C656.83,97.00 658.18,94.50 659.00,92.00 C659.82,89.50 660.47,87.68 661.10,85.00 C661.73,82.32 662.38,77.42 662.80,75.90 C663.22,74.38 663.47,75.90 663.60,75.90Z" fill="#f00" stroke="#600" stroke-width="0.5"/>
<line x1="663.60" y1="75.90" x2="663.60" y2="134.00" stroke="#700" stroke-width="0.6" />
<rect x="662.70" y="102.00" width="1.8" height="15.00" fill="#000"/>
<circle cx="663.60" cy="110.00" r="1.55" fill="#fff"/>
<text x="497.40" y="210.80" font-size="11.7" font-weight="bold" text-anchor="start" fill="#000" >Principle components</text>
<text x="415.00" y="171.60" font-size="11.78" font-weight="bold" text-anchor="start" fill="#000" transform="rotate(-90 415.0 171.6)" >Principle component of the</text>
<text x="427.90" y="149.40" font-size="11.72" font-weight="bold" text-anchor="start" fill="#000" transform="rotate(-90 427.9 149.4)" >381 inbred lines</text>
<line x1="450.20" y1="240.00" x2="450.20" y2="421.80" stroke="#888" stroke-width="1" />
<line x1="450.20" y1="421.80" x2="682.80" y2="421.80" stroke="#888" stroke-width="1" />
<line x1="682.80" y1="240.00" x2="682.80" y2="421.80" stroke="#aaa" stroke-width="1" />
<line x1="450.20" y1="240.00" x2="682.80" y2="240.00" stroke="#888" stroke-width="1" />
<line x1="447.20" y1="244.50" x2="450.20" y2="244.50" stroke="#888" stroke-width="1" />
<text x="442.50" y="244.50" font-size="6.4" text-anchor="middle" fill="#333" transform="rotate(-90 442.5 244.5)" >400</text>
<line x1="447.20" y1="286.15" x2="450.20" y2="286.15" stroke="#888" stroke-width="1" />
<text x="442.50" y="286.15" font-size="6.4" text-anchor="middle" fill="#333" transform="rotate(-90 442.5 286.15000000000003)" >200</text>
<line x1="447.20" y1="327.80" x2="450.20" y2="327.80" stroke="#888" stroke-width="1" />
<text x="442.50" y="327.80" font-size="6.4" text-anchor="middle" fill="#333" transform="rotate(-90 442.5 327.8)" >0</text>
<line x1="447.20" y1="369.45" x2="450.20" y2="369.45" stroke="#888" stroke-width="1" />
<text x="442.50" y="369.45" font-size="6.4" text-anchor="middle" fill="#333" transform="rotate(-90 442.5 369.45)" >-200</text>
<line x1="447.20" y1="411.10" x2="450.20" y2="411.10" stroke="#888" stroke-width="1" />
<text x="442.50" y="411.10" font-size="6.4" text-anchor="middle" fill="#333" transform="rotate(-90 442.5 411.1)" >-400</text>
<line x1="469.50" y1="421.80" x2="469.50" y2="425.00" stroke="#888" stroke-width="1" />
<text x="469.50" y="435.40" font-size="6.6" text-anchor="middle" fill="#222" >1</text>
<line x1="491.30" y1="421.80" x2="491.30" y2="425.00" stroke="#888" stroke-width="1" />
<text x="491.30" y="435.40" font-size="6.6" text-anchor="middle" fill="#222" >2</text>
<line x1="512.80" y1="421.80" x2="512.80" y2="425.00" stroke="#888" stroke-width="1" />
<text x="512.80" y="435.40" font-size="6.6" text-anchor="middle" fill="#222" >3</text>
<line x1="534.40" y1="421.80" x2="534.40" y2="425.00" stroke="#888" stroke-width="1" />
<text x="534.40" y="435.40" font-size="6.6" text-anchor="middle" fill="#222" >4</text>
<line x1="556.30" y1="421.80" x2="556.30" y2="425.00" stroke="#888" stroke-width="1" />
<text x="556.30" y="435.40" font-size="6.6" text-anchor="middle" fill="#222" >5</text>
<line x1="577.80" y1="421.80" x2="577.80" y2="425.00" stroke="#888" stroke-width="1" />
<text x="577.80" y="435.40" font-size="6.6" text-anchor="middle" fill="#222" >6</text>
<line x1="599.20" y1="421.80" x2="599.20" y2="425.00" stroke="#888" stroke-width="1" />
<text x="599.20" y="435.40" font-size="6.6" text-anchor="middle" fill="#222" >7</text>
<line x1="620.60" y1="421.80" x2="620.60" y2="425.00" stroke="#888" stroke-width="1" />
<text x="620.60" y="435.40" font-size="6.6" text-anchor="middle" fill="#222" >8</text>
<line x1="642.20" y1="421.80" x2="642.20" y2="425.00" stroke="#888" stroke-width="1" />
<text x="642.20" y="435.40" font-size="6.6" text-anchor="middle" fill="#222" >9</text>
<line x1="664.00" y1="421.80" x2="664.00" y2="425.00" stroke="#888" stroke-width="1" />
<text x="664.00" y="435.40" font-size="6.6" text-anchor="middle" fill="#222" >10</text>
<line x1="469.50" y1="278.40" x2="469.50" y2="381.00" stroke="#333" stroke-width="0.8" />
<path d="M469.50,301.40 C469.63,301.40 470.03,300.63 470.30,301.40 C470.57,302.17 470.67,304.57 471.10,306.00 C471.53,307.43 472.20,308.67 472.90,310.00 C473.60,311.33 474.58,312.67 475.30,314.00 C476.02,315.33 476.75,316.58 477.20,318.00 C477.65,319.42 478.02,320.83 478.00,322.50 C477.98,324.17 477.75,326.25 477.10,328.00 C476.45,329.75 475.03,331.33 474.10,333.00 C473.17,334.67 472.07,336.00 471.50,338.00 C470.93,340.00 470.87,341.33 470.70,345.00 C470.53,348.67 470.63,354.00 470.50,360.00 C470.37,366.00 470.07,377.50 469.90,381.00 C469.73,384.50 469.63,381.00 469.50,381.00 C469.37,381.00 469.27,384.50 469.10,381.00 C468.93,377.50 468.63,366.00 468.50,360.00 C468.37,354.00 468.47,348.67 468.30,345.00 C468.13,341.33 468.07,340.00 467.50,338.00 C466.93,336.00 465.83,334.67 464.90,333.00 C463.97,331.33 462.55,329.75 461.90,328.00 C461.25,326.25 461.02,324.17 461.00,322.50 C460.98,320.83 461.35,319.42 461.80,318.00 C462.25,316.58 462.98,315.33 463.70,314.00 C464.42,312.67 465.40,311.33 466.10,310.00 C466.80,308.67 467.47,307.43 467.90,306.00 C468.33,304.57 468.43,302.17 468.70,301.40 C468.97,300.63 469.37,301.40 469.50,301.40Z" fill="#f00" stroke="#600" stroke-width="0.5"/>
<line x1="469.50" y1="301.40" x2="469.50" y2="381.00" stroke="#700" stroke-width="0.6" />
<rect x="468.60" y="316.00" width="1.8" height="14.00" fill="#000"/>
<circle cx="469.50" cy="323.00" r="1.55" fill="#fff"/>
<line x1="491.30" y1="257.10" x2="491.30" y2="349.00" stroke="#333" stroke-width="0.8" />
<path d="M491.30,290.80 C491.43,290.80 491.90,289.27 492.10,290.80 C492.30,292.33 492.30,297.47 492.50,300.00 C492.70,302.53 492.92,304.00 493.30,306.00 C493.68,308.00 494.22,310.00 494.80,312.00 C495.38,314.00 496.13,315.83 496.80,318.00 C497.47,320.17 498.33,322.50 498.80,325.00 C499.27,327.50 499.68,330.50 499.60,333.00 C499.52,335.50 498.93,338.00 498.30,340.00 C497.67,342.00 496.72,343.50 495.80,345.00 C494.88,346.50 493.55,348.33 492.80,349.00 C492.05,349.67 491.80,349.00 491.30,349.00 C490.80,349.00 490.55,349.67 489.80,349.00 C489.05,348.33 487.72,346.50 486.80,345.00 C485.88,343.50 484.93,342.00 484.30,340.00 C483.67,338.00 483.08,335.50 483.00,333.00 C482.92,330.50 483.33,327.50 483.80,325.00 C484.27,322.50 485.13,320.17 485.80,318.00 C486.47,315.83 487.22,314.00 487.80,312.00 C488.38,310.00 488.92,308.00 489.30,306.00 C489.68,304.00 489.90,302.53 490.10,300.00 C490.30,297.47 490.30,292.33 490.50,290.80 C490.70,289.27 491.17,290.80 491.30,290.80Z" fill="#f00" stroke="#600" stroke-width="0.5"/>
<line x1="491.30" y1="290.80" x2="491.30" y2="349.00" stroke="#700" stroke-width="0.6" />
<rect x="490.40" y="325.00" width="1.8" height="15.00" fill="#000"/>
<circle cx="491.30" cy="332.70" r="1.55" fill="#fff"/>
<line x1="512.80" y1="271.30" x2="512.80" y2="369.40" stroke="#333" stroke-width="0.8" />
<path d="M512.80,296.00 C512.93,296.00 513.40,294.83 513.60,296.00 C513.80,297.17 513.80,301.00 514.00,303.00 C514.20,305.00 514.42,306.33 514.80,308.00 C515.18,309.67 515.70,311.33 516.30,313.00 C516.90,314.67 517.72,316.33 518.40,318.00 C519.08,319.67 519.90,321.33 520.40,323.00 C520.90,324.67 521.40,326.17 521.40,328.00 C521.40,329.83 521.07,332.00 520.40,334.00 C519.73,336.00 518.33,338.08 517.40,340.00 C516.47,341.92 515.37,343.00 514.80,345.50 C514.23,348.00 514.27,351.02 514.00,355.00 C513.73,358.98 513.40,367.00 513.20,369.40 C513.00,371.80 512.93,369.40 512.80,369.40 C512.67,369.40 512.60,371.80 512.40,369.40 C512.20,367.00 511.87,358.98 511.60,355.00 C511.33,351.02 511.37,348.00 510.80,345.50 C510.23,343.00 509.13,341.92 508.20,340.00 C507.27,338.08 505.87,336.00 505.20,334.00 C504.53,332.00 504.20,329.83 504.20,328.00 C504.20,326.17 504.70,324.67 505.20,323.00 C505.70,321.33 506.52,319.67 507.20,318.00 C507.88,316.33 508.70,314.67 509.30,313.00 C509.90,311.33 510.42,309.67 510.80,308.00 C511.18,306.33 511.40,305.00 511.60,303.00 C511.80,301.00 511.80,297.17 512.00,296.00 C512.20,294.83 512.67,296.00 512.80,296.00Z" fill="#f00" stroke="#600" stroke-width="0.5"/>
<line x1="512.80" y1="296.00" x2="512.80" y2="369.40" stroke="#700" stroke-width="0.6" />
<rect x="511.90" y="321.00" width="1.8" height="14.00" fill="#000"/>
<circle cx="512.80" cy="328.60" r="1.55" fill="#fff"/>
<line x1="534.40" y1="277.50" x2="534.40" y2="415.00" stroke="#333" stroke-width="0.8" />
<path d="M534.40,306.70 C534.57,306.70 534.90,305.82 535.40,306.70 C535.90,307.58 536.57,310.12 537.40,312.00 C538.23,313.88 539.57,316.17 540.40,318.00 C541.23,319.83 541.98,321.50 542.40,323.00 C542.82,324.50 543.07,325.33 542.90,327.00 C542.73,328.67 542.22,330.83 541.40,333.00 C540.58,335.17 539.00,338.07 538.00,340.00 C537.00,341.93 536.00,343.83 535.40,344.60 C534.80,345.37 534.73,344.60 534.40,344.60 C534.07,344.60 534.00,345.37 533.40,344.60 C532.80,343.83 531.80,341.93 530.80,340.00 C529.80,338.07 528.22,335.17 527.40,333.00 C526.58,330.83 526.07,328.67 525.90,327.00 C525.73,325.33 525.98,324.50 526.40,323.00 C526.82,321.50 527.57,319.83 528.40,318.00 C529.23,316.17 530.57,313.88 531.40,312.00 C532.23,310.12 532.90,307.58 533.40,306.70 C533.90,305.82 534.23,306.70 534.40,306.70Z" fill="#f00" stroke="#600" stroke-width="0.5"/>
<line x1="534.40" y1="306.70" x2="534.40" y2="344.60" stroke="#700" stroke-width="0.6" />
<rect x="533.50" y="319.00" width="1.8" height="15.00" fill="#000"/>
<circle cx="534.40" cy="326.70" r="1.55" fill="#fff"/>
<line x1="556.30" y1="284.60" x2="556.30" y2="360.50" stroke="#333" stroke-width="0.8" />
<path d="M556.30,284.60 C556.47,284.60 557.13,282.03 557.30,284.60 C557.47,287.17 557.13,295.77 557.30,300.00 C557.47,304.23 557.72,307.33 558.30,310.00 C558.88,312.67 559.97,314.00 560.80,316.00 C561.63,318.00 562.65,319.67 563.30,322.00 C563.95,324.33 564.70,327.33 564.70,330.00 C564.70,332.67 564.03,335.50 563.30,338.00 C562.57,340.50 561.22,342.67 560.30,345.00 C559.38,347.33 558.40,349.42 557.80,352.00 C557.20,354.58 556.95,359.08 556.70,360.50 C556.45,361.92 556.43,360.50 556.30,360.50 C556.17,360.50 556.15,361.92 555.90,360.50 C555.65,359.08 555.40,354.58 554.80,352.00 C554.20,349.42 553.22,347.33 552.30,345.00 C551.38,342.67 550.03,340.50 549.30,338.00 C548.57,335.50 547.90,332.67 547.90,330.00 C547.90,327.33 548.65,324.33 549.30,322.00 C549.95,319.67 550.97,318.00 551.80,316.00 C552.63,314.00 553.72,312.67 554.30,310.00 C554.88,307.33 555.13,304.23 555.30,300.00 C555.47,295.77 555.13,287.17 555.30,284.60 C555.47,282.03 556.13,284.60 556.30,284.60Z" fill="#f00" stroke="#600" stroke-width="0.5"/>
<line x1="556.30" y1="284.60" x2="556.30" y2="360.50" stroke="#700" stroke-width="0.6" />
<rect x="555.40" y="322.00" width="1.8" height="16.00" fill="#000"/>
<circle cx="556.30" cy="330.00" r="1.55" fill="#fff"/>
<line x1="577.80" y1="242.00" x2="577.80" y2="353.90" stroke="#333" stroke-width="0.8" />
<path d="M577.80,292.50 C577.93,292.50 578.40,290.42 578.60,292.50 C578.80,294.58 578.77,301.45 579.00,305.00 C579.23,308.55 579.45,311.63 580.00,313.80 C580.55,315.97 581.50,316.47 582.30,318.00 C583.10,319.53 584.12,321.17 584.80,323.00 C585.48,324.83 586.40,327.00 586.40,329.00 C586.40,331.00 585.57,332.83 584.80,335.00 C584.03,337.17 582.63,339.83 581.80,342.00 C580.97,344.17 580.40,346.02 579.80,348.00 C579.20,349.98 578.53,352.92 578.20,353.90 C577.87,354.88 577.93,353.90 577.80,353.90 C577.67,353.90 577.73,354.88 577.40,353.90 C577.07,352.92 576.40,349.98 575.80,348.00 C575.20,346.02 574.63,344.17 573.80,342.00 C572.97,339.83 571.57,337.17 570.80,335.00 C570.03,332.83 569.20,331.00 569.20,329.00 C569.20,327.00 570.12,324.83 570.80,323.00 C571.48,321.17 572.50,319.53 573.30,318.00 C574.10,316.47 575.05,315.97 575.60,313.80 C576.15,311.63 576.37,308.55 576.60,305.00 C576.83,301.45 576.80,294.58 577.00,292.50 C577.20,290.42 577.67,292.50 577.80,292.50Z" fill="#f00" stroke="#600" stroke-width="0.5"/>
<line x1="577.80" y1="292.50" x2="577.80" y2="353.90" stroke="#700" stroke-width="0.6" />
<rect x="576.90" y="322.00" width="1.8" height="15.00" fill="#000"/>
<circle cx="577.80" cy="329.10" r="1.55" fill="#fff"/>
<line x1="599.20" y1="297.60" x2="599.20" y2="377.50" stroke="#333" stroke-width="0.8" />
<path d="M599.20,297.60 C599.33,297.60 599.83,296.20 600.00,297.60 C600.17,299.00 599.92,303.43 600.20,306.00 C600.48,308.57 600.95,311.00 601.70,313.00 C602.45,315.00 603.87,316.50 604.70,318.00 C605.53,319.50 606.23,320.58 606.70,322.00 C607.17,323.42 607.58,324.83 607.50,326.50 C607.42,328.17 606.92,330.08 606.20,332.00 C605.48,333.92 604.12,335.67 603.20,338.00 C602.28,340.33 601.20,342.33 600.70,346.00 C600.20,349.67 600.38,354.75 600.20,360.00 C600.02,365.25 599.77,374.58 599.60,377.50 C599.43,380.42 599.33,377.50 599.20,377.50 C599.07,377.50 598.97,380.42 598.80,377.50 C598.63,374.58 598.38,365.25 598.20,360.00 C598.02,354.75 598.20,349.67 597.70,346.00 C597.20,342.33 596.12,340.33 595.20,338.00 C594.28,335.67 592.92,333.92 592.20,332.00 C591.48,330.08 590.98,328.17 590.90,326.50 C590.82,324.83 591.23,323.42 591.70,322.00 C592.17,320.58 592.87,319.50 593.70,318.00 C594.53,316.50 595.95,315.00 596.70,313.00 C597.45,311.00 597.92,308.57 598.20,306.00 C598.48,303.43 598.23,299.00 598.40,297.60 C598.57,296.20 599.07,297.60 599.20,297.60Z" fill="#f00" stroke="#600" stroke-width="0.5"/>
<line x1="599.20" y1="297.60" x2="599.20" y2="377.50" stroke="#700" stroke-width="0.6" />
<rect x="598.30" y="321.00" width="1.8" height="12.00" fill="#000"/>
<circle cx="599.20" cy="326.50" r="1.55" fill="#fff"/>
<line x1="620.60" y1="295.40" x2="620.60" y2="405.00" stroke="#333" stroke-width="0.8" />
<path d="M620.60,295.40 C620.73,295.40 621.23,293.63 621.40,295.40 C621.57,297.17 621.32,303.07 621.60,306.00 C621.88,308.93 622.35,311.00 623.10,313.00 C623.85,315.00 625.27,316.50 626.10,318.00 C626.93,319.50 627.62,320.58 628.10,322.00 C628.58,323.42 629.05,324.83 629.00,326.50 C628.95,328.17 628.50,330.08 627.80,332.00 C627.10,333.92 625.67,336.17 624.80,338.00 C623.93,339.83 623.22,341.23 622.60,343.00 C621.98,344.77 621.43,347.67 621.10,348.60 C620.77,349.53 620.77,348.60 620.60,348.60 C620.43,348.60 620.43,349.53 620.10,348.60 C619.77,347.67 619.22,344.77 618.60,343.00 C617.98,341.23 617.27,339.83 616.40,338.00 C615.53,336.17 614.10,333.92 613.40,332.00 C612.70,330.08 612.25,328.17 612.20,326.50 C612.15,324.83 612.62,323.42 613.10,322.00 C613.58,320.58 614.27,319.50 615.10,318.00 C615.93,316.50 617.35,315.00 618.10,313.00 C618.85,311.00 619.32,308.93 619.60,306.00 C619.88,303.07 619.63,297.17 619.80,295.40 C619.97,293.63 620.47,295.40 620.60,295.40Z" fill="#f00" stroke="#600" stroke-width="0.5"/>
<line x1="620.60" y1="295.40" x2="620.60" y2="348.60" stroke="#700" stroke-width="0.6" />
<rect x="619.70" y="321.00" width="1.8" height="12.00" fill="#000"/>
<circle cx="620.60" cy="326.50" r="1.55" fill="#fff"/>
<line x1="642.20" y1="295.40" x2="642.20" y2="398.80" stroke="#333" stroke-width="0.8" />
<path d="M642.20,295.40 C642.33,295.40 642.83,293.63 643.00,295.40 C643.17,297.17 642.92,303.07 643.20,306.00 C643.48,308.93 643.95,311.00 644.70,313.00 C645.45,315.00 646.87,316.50 647.70,318.00 C648.53,319.50 649.22,320.58 649.70,322.00 C650.18,323.42 650.65,324.83 650.60,326.50 C650.55,328.17 650.10,330.08 649.40,332.00 C648.70,333.92 647.27,336.33 646.40,338.00 C645.53,339.67 644.82,340.60 644.20,342.00 C643.58,343.40 643.03,345.67 642.70,346.40 C642.37,347.13 642.37,346.40 642.20,346.40 C642.03,346.40 642.03,347.13 641.70,346.40 C641.37,345.67 640.82,343.40 640.20,342.00 C639.58,340.60 638.87,339.67 638.00,338.00 C637.13,336.33 635.70,333.92 635.00,332.00 C634.30,330.08 633.85,328.17 633.80,326.50 C633.75,324.83 634.22,323.42 634.70,322.00 C635.18,320.58 635.87,319.50 636.70,318.00 C637.53,316.50 638.95,315.00 639.70,313.00 C640.45,311.00 640.92,308.93 641.20,306.00 C641.48,303.07 641.23,297.17 641.40,295.40 C641.57,293.63 642.07,295.40 642.20,295.40Z" fill="#f00" stroke="#600" stroke-width="0.5"/>
<line x1="642.20" y1="295.40" x2="642.20" y2="346.40" stroke="#700" stroke-width="0.6" />
<rect x="641.30" y="321.00" width="1.8" height="12.00" fill="#000"/>
<circle cx="642.20" cy="326.50" r="1.55" fill="#fff"/>
<line x1="664.00" y1="260.80" x2="664.00" y2="360.60" stroke="#333" stroke-width="0.8" />
<path d="M664.00,302.00 C664.17,302.00 664.58,300.67 665.00,302.00 C665.42,303.33 665.83,307.67 666.50,310.00 C667.17,312.33 668.17,314.17 669.00,316.00 C669.83,317.83 670.92,319.25 671.50,321.00 C672.08,322.75 672.50,324.67 672.50,326.50 C672.50,328.33 672.08,330.08 671.50,332.00 C670.92,333.92 669.83,336.00 669.00,338.00 C668.17,340.00 667.17,341.83 666.50,344.00 C665.83,346.17 665.35,348.23 665.00,351.00 C664.65,353.77 664.57,359.00 664.40,360.60 C664.23,362.20 664.13,360.60 664.00,360.60 C663.87,360.60 663.77,362.20 663.60,360.60 C663.43,359.00 663.35,353.77 663.00,351.00 C662.65,348.23 662.17,346.17 661.50,344.00 C660.83,341.83 659.83,340.00 659.00,338.00 C658.17,336.00 657.08,333.92 656.50,332.00 C655.92,330.08 655.50,328.33 655.50,326.50 C655.50,324.67 655.92,322.75 656.50,321.00 C657.08,319.25 658.17,317.83 659.00,316.00 C659.83,314.17 660.83,312.33 661.50,310.00 C662.17,307.67 662.58,303.33 663.00,302.00 C663.42,300.67 663.83,302.00 664.00,302.00Z" fill="#f00" stroke="#600" stroke-width="0.5"/>
<line x1="664.00" y1="302.00" x2="664.00" y2="360.60" stroke="#700" stroke-width="0.6" />
<rect x="663.10" y="320.00" width="1.8" height="14.00" fill="#000"/>
<circle cx="664.00" cy="326.50" r="1.55" fill="#fff"/>
<text x="504.00" y="448.00" font-size="11.7" font-weight="bold" text-anchor="start" fill="#000" >Principle components</text>
<text x="416.60" y="401.00" font-size="11.7" font-weight="bold" text-anchor="start" fill="#000" transform="rotate(-90 416.6 401)" >Principle component of the</text>
<text x="429.00" y="378.90" font-size="11.72" font-weight="bold" text-anchor="start" fill="#000" transform="rotate(-90 429.0 378.9)" >235 inbred lines</text>
<text x="0.60" y="11.00" font-size="14.3" font-weight="bold" text-anchor="start" fill="#000" >(A)</text>
<text x="405.90" y="10.80" font-size="14.3" font-weight="bold" text-anchor="start" fill="#000" >(B)</text>
<text x="0.80" y="240.60" font-size="14.3" font-weight="bold" text-anchor="start" fill="#000" >(C)</text>
<text x="405.70" y="240.60" font-size="14.3" font-weight="bold" text-anchor="start" fill="#000" >(D)</text>
<text x="2.30" y="71.80" font-size="11.4" font-weight="bold" text-anchor="start" fill="#000" >PC3</text>
<line x1="13.30" y1="75.30" x2="13.30" y2="105.80" stroke="#888" stroke-width="0.8" />
<line x1="11.40" y1="78.20" x2="13.30" y2="78.20" stroke="#888" stroke-width="0.6" />
<text x="9.60" y="79.90" font-size="4.8" text-anchor="end" fill="#222" >323</text>
<line x1="11.40" y1="84.90" x2="13.30" y2="84.90" stroke="#888" stroke-width="0.6" />
<text x="9.60" y="86.60" font-size="4.8" text-anchor="end" fill="#222" >200</text>
<line x1="11.40" y1="92.00" x2="13.30" y2="92.00" stroke="#888" stroke-width="0.6" />
<text x="9.60" y="93.70" font-size="4.8" text-anchor="end" fill="#222" >80</text>
<line x1="11.40" y1="98.70" x2="13.30" y2="98.70" stroke="#888" stroke-width="0.6" />
<text x="9.60" y="100.40" font-size="4.8" text-anchor="end" fill="#222" >-36</text>
<line x1="11.40" y1="105.80" x2="13.30" y2="105.80" stroke="#888" stroke-width="0.6" />
<text x="9.60" y="107.50" font-size="4.8" text-anchor="end" fill="#222" >-156</text>
<text x="13.30" y="111.70" font-size="4.8" text-anchor="end" fill="#222" >-149</text>
<text x="54.00" y="129.50" font-size="4.8" text-anchor="middle" fill="#222" >-45</text>
<text x="99.30" y="148.50" font-size="4.8" text-anchor="middle" fill="#222" >57</text>
<text x="144.50" y="167.00" font-size="4.8" text-anchor="middle" fill="#222" >160</text>
<text x="191.50" y="187.50" font-size="4.8" text-anchor="middle" fill="#222" >253</text>
<text x="203.00" y="185.50" font-size="4.8" text-anchor="middle" fill="#222" >149</text>
<text x="248.80" y="165.70" font-size="4.8" text-anchor="middle" fill="#222" >49</text>
<text x="295.50" y="147.00" font-size="4.8" text-anchor="middle" fill="#222" >-51</text>
<text x="341.00" y="127.50" font-size="4.8" text-anchor="middle" fill="#222" >-150</text>
<text x="385.00" y="109.70" font-size="4.8" text-anchor="middle" fill="#222" >-249</text>
<text x="0" y="0" font-size="12.6" font-weight="bold" text-anchor="middle" transform="matrix(0.956 0.292 -0.242 0.970 92.4 160.2)">PC1</text>
<text x="288.50" y="165.50" font-size="12.6" font-weight="bold" text-anchor="middle" fill="#000" transform="rotate(-24 288.5 165.5)" >PC2</text>
<text x="6.30" y="328.40" font-size="11.4" font-weight="bold" text-anchor="start" fill="#000" >PC3</text>
<line x1="20.00" y1="333.30" x2="20.00" y2="392.00" stroke="#888" stroke-width="0.8" />
<line x1="18.20" y1="339.50" x2="20.00" y2="339.50" stroke="#888" stroke-width="0.6" />
<text x="15.50" y="341.20" font-size="4.8" text-anchor="end" fill="#222" >316</text>
<line x1="18.20" y1="352.60" x2="20.00" y2="352.60" stroke="#888" stroke-width="0.6" />
<text x="15.50" y="354.30" font-size="4.8" text-anchor="end" fill="#222" >200</text>
<line x1="18.20" y1="365.90" x2="20.00" y2="365.90" stroke="#888" stroke-width="0.6" />
<text x="15.50" y="367.60" font-size="4.8" text-anchor="end" fill="#222" >90</text>
<line x1="18.20" y1="379.20" x2="20.00" y2="379.20" stroke="#888" stroke-width="0.6" />
<text x="15.50" y="380.90" font-size="4.8" text-anchor="end" fill="#222" >-22</text>
<line x1="18.20" y1="392.50" x2="20.00" y2="392.50" stroke="#888" stroke-width="0.6" />
<text x="15.50" y="394.20" font-size="4.8" text-anchor="end" fill="#222" >-135</text>
<text x="16.40" y="398.20" font-size="4.8" text-anchor="middle" fill="#222" >51</text>
<text x="85.00" y="406.90" font-size="4.8" text-anchor="middle" fill="#222" >9</text>
<text x="152.30" y="414.60" font-size="4.8" text-anchor="end" fill="#222" >-51</text>
<text x="220.60" y="423.50" font-size="4.8" text-anchor="end" fill="#222" >-102</text>
<text x="288.80" y="432.70" font-size="4.8" text-anchor="end" fill="#222" >-152</text>
<text x="293.90" y="429.30" font-size="4.8" text-anchor="start" fill="#222" >146</text>
<text x="318.70" y="406.00" font-size="4.8" text-anchor="start" fill="#222" >46</text>
<text x="343.00" y="383.80" font-size="4.8" text-anchor="start" fill="#222" >-54</text>
<text x="366.00" y="360.50" font-size="4.8" text-anchor="start" fill="#222" >-104</text>
<text x="388.80" y="340.10" font-size="4.8" text-anchor="start" fill="#222" >-234</text>
<text x="124.60" y="426.00" font-size="12.4" font-weight="bold" text-anchor="start" fill="#000" >PC1</text>
<text x="355.30" y="397.20" font-size="12.6" font-weight="bold" text-anchor="middle" fill="#000" transform="rotate(-40 355.3 397.2)" >PC2</text>
<text x="341.00" y="203.00" font-size="12.45" font-weight="bold" text-anchor="start" fill="#000" >IMAS-AM panel</text>
<text x="335.60" y="441.40" font-size="12.35" font-weight="bold" text-anchor="start" fill="#000" >DTMA-AM panel</text>
<rect x="340.4" y="19" width="38.30000000000001" height="69.3" fill="#fff" stroke="#888" stroke-width="0.8"/>
<path d="M351.10,24.50 L353.60,28.88 L348.60,28.88Z" fill="#fff" stroke="#f33" stroke-width="0.6"/>
<path d="M351.10,23.88 L353.98,27.00 L351.10,30.00 L348.23,27.00Z" fill="none" stroke="#f33" stroke-width="0.6"/>
<text x="361.10" y="29.10" font-size="6.0" font-weight="bold" text-anchor="start" fill="#111" >G1</text>
<path d="M351.10,34.50 L353.60,38.88 L348.60,38.88Z" fill="#fff" stroke="#888" stroke-width="0.6"/>
<text x="361.10" y="39.10" font-size="6.0" font-weight="bold" text-anchor="start" fill="#111" >G2</text>
<circle cx="351.10" cy="45.50" r="2.50" fill="#fff" stroke="#f33" stroke-width="0.6"/>
<text x="361.10" y="47.60" font-size="6.0" font-weight="bold" text-anchor="start" fill="#111" >G3</text>
<circle cx="351.10" cy="54.30" r="2.50" fill="#fff" stroke="#999" stroke-width="0.6"/>
<text x="361.10" y="56.40" font-size="6.0" font-weight="bold" text-anchor="start" fill="#111" >G4</text>
<path d="M351.10,62.20 L353.60,66.58 L348.60,66.58Z" fill="#fff" stroke="#f33" stroke-width="0.6"/>
<path d="M351.10,62.20 L351.10,67.20 M349.35,64.90 L352.85,64.90" stroke="#f33" stroke-width="0.6"/>
<text x="361.10" y="66.80" font-size="6.0" font-weight="bold" text-anchor="start" fill="#111" >G5</text>
<path d="M351.10,72.60 L353.60,76.97 L348.60,76.97Z" fill="#fff" stroke="#999" stroke-width="0.6"/>
<path d="M351.10,72.60 L351.10,77.60 M349.35,75.30 L352.85,75.30" stroke="#999" stroke-width="0.6"/>
<text x="361.10" y="77.20" font-size="6.0" font-weight="bold" text-anchor="start" fill="#111" >G6</text>
<path d="M348.10,84.20 L351.10,82.58 L354.10,84.20 L351.10,85.83Z" fill="#fff" stroke="#e00" stroke-width="0.72"/>
<text x="361.10" y="86.30" font-size="6.0" font-weight="bold" text-anchor="start" fill="#111" >G7</text>
<rect x="331.3" y="243.5" width="38.099999999999966" height="69.80000000000001" fill="#fff" stroke="#888" stroke-width="0.8"/>
<path d="M341.70,249.10 L344.20,253.47 L339.20,253.47Z" fill="#fff" stroke="#f33" stroke-width="0.6"/>
<path d="M341.70,248.47 L344.57,251.60 L341.70,254.60 L338.82,251.60Z" fill="none" stroke="#f33" stroke-width="0.6"/>
<text x="351.70" y="253.70" font-size="6.0" font-weight="bold" text-anchor="start" fill="#111" >G1</text>
<path d="M341.70,258.50 L344.20,262.88 L339.20,262.88Z" fill="#fff" stroke="#888" stroke-width="0.6"/>
<text x="351.70" y="263.10" font-size="6.0" font-weight="bold" text-anchor="start" fill="#111" >G2</text>
<circle cx="341.70" cy="269.90" r="2.50" fill="#fff" stroke="#f33" stroke-width="0.6"/>
<text x="351.70" y="272.00" font-size="6.0" font-weight="bold" text-anchor="start" fill="#111" >G3</text>
<circle cx="341.70" cy="278.80" r="2.50" fill="#fff" stroke="#999" stroke-width="0.6"/>
<text x="351.70" y="280.90" font-size="6.0" font-weight="bold" text-anchor="start" fill="#111" >G4</text>
<path d="M341.70,286.30 L344.20,290.68 L339.20,290.68Z" fill="#fff" stroke="#f33" stroke-width="0.6"/>
<path d="M341.70,286.30 L341.70,291.30 M339.95,289.00 L343.45,289.00" stroke="#f33" stroke-width="0.6"/>
<text x="351.70" y="290.90" font-size="6.0" font-weight="bold" text-anchor="start" fill="#111" >G5</text>
<path d="M341.70,297.00 L344.20,301.38 L339.20,301.38Z" fill="#fff" stroke="#999" stroke-width="0.6"/>
<path d="M341.70,297.00 L341.70,302.00 M339.95,299.70 L343.45,299.70" stroke="#999" stroke-width="0.6"/>
<text x="351.70" y="301.60" font-size="6.0" font-weight="bold" text-anchor="start" fill="#111" >G6</text>
<path d="M338.70,308.20 L341.70,306.57 L344.70,308.20 L341.70,309.82Z" fill="#fff" stroke="#e00" stroke-width="0.72"/>
<text x="351.70" y="310.30" font-size="6.0" font-weight="bold" text-anchor="start" fill="#111" >G7</text>
</svg></body></html>
